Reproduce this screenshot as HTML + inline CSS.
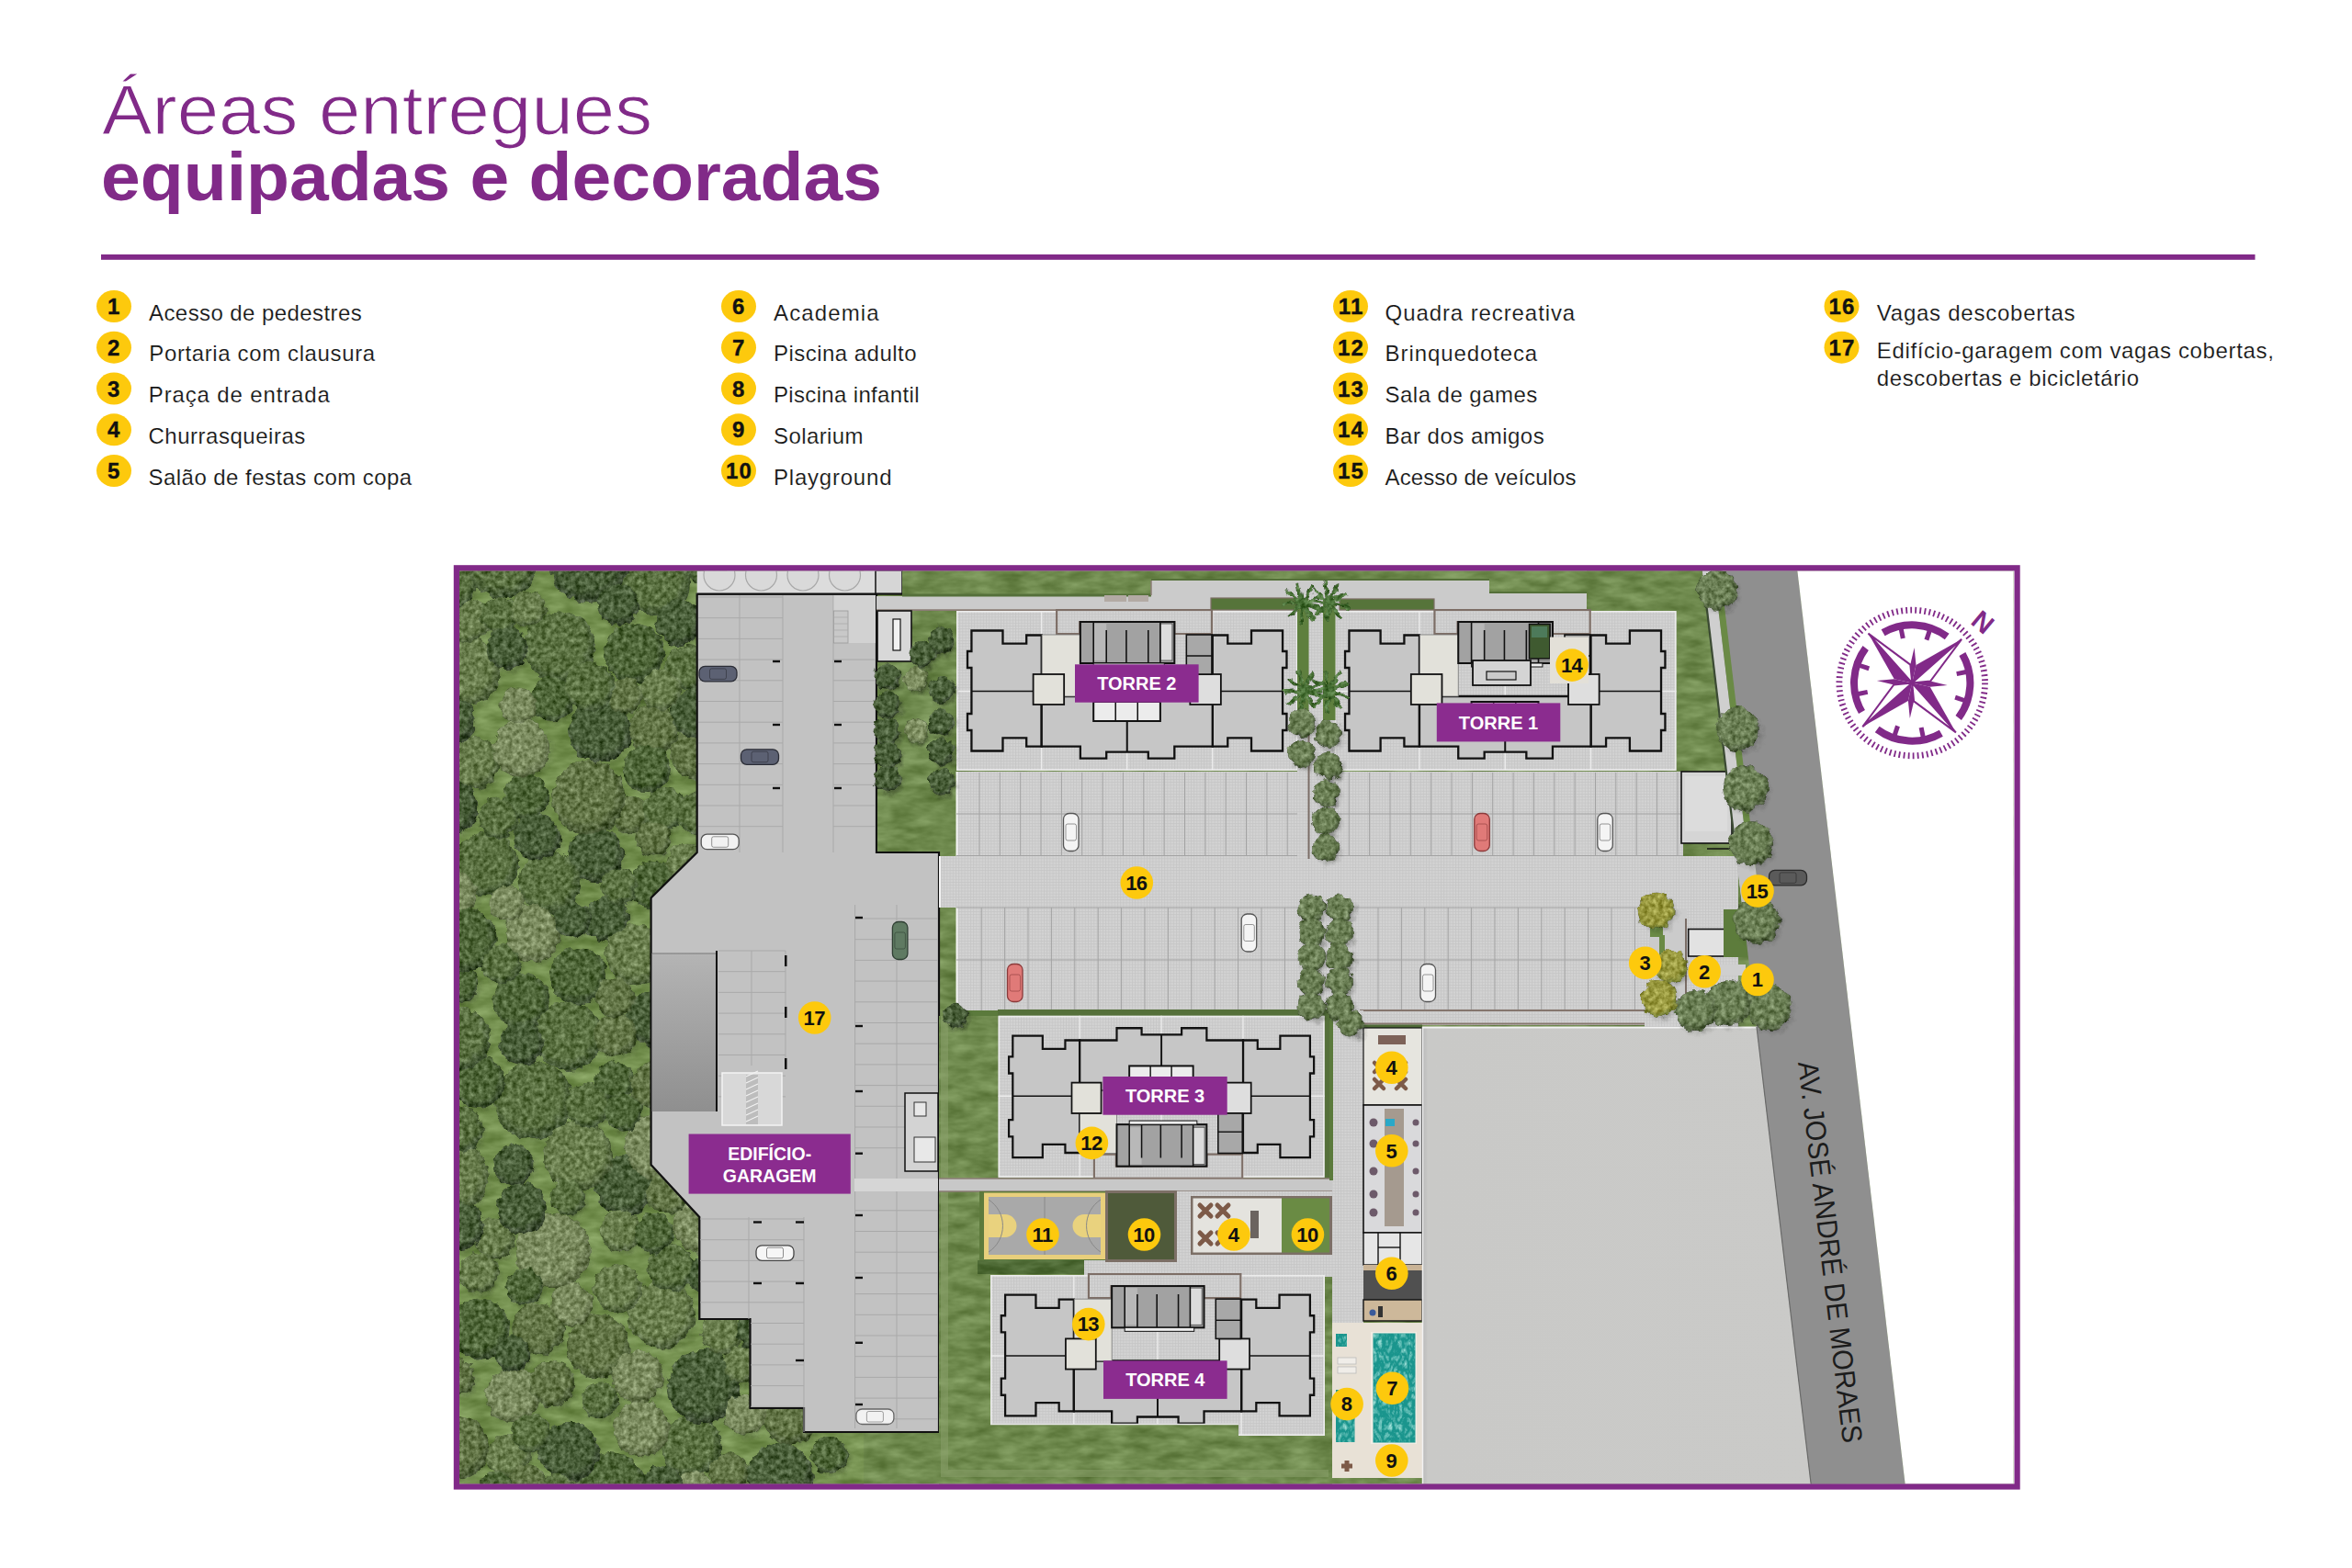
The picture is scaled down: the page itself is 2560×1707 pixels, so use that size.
<!DOCTYPE html>
<html><head><meta charset="utf-8"><style>
html,body{margin:0;padding:0;background:#fff;width:2560px;height:1707px;overflow:hidden}
svg{position:absolute;left:0;top:0;font-family:"Liberation Sans",sans-serif}
</style></head><body>
<svg width="2560" height="1707" viewBox="0 0 2560 1707">
<defs><filter id="lawnf" filterUnits="userSpaceOnUse" x="480" y="600" width="1740" height="1040" color-interpolation-filters="sRGB"><feTurbulence type="fractalNoise" baseFrequency="0.035 0.09" numOctaves="3" seed="11" result="n"/><feColorMatrix in="n" type="matrix" values="1 0 0 0 0  1 0 0 0 0  1 0 0 0 0  0 0 0 0 1" result="g"/><feComposite in="SourceGraphic" in2="g" operator="arithmetic" k1="0" k2="1" k3="0.28" k4="-0.14" result="c"/><feComposite in="c" in2="SourceGraphic" operator="in"/></filter><radialGradient id="tg0" cx="0.45" cy="0.42" r="0.58"><stop offset="0" stop-color="#5a7041"/><stop offset="0.72" stop-color="#5a7041"/><stop offset="1" stop-color="#3c4e2f"/></radialGradient><radialGradient id="tg1" cx="0.45" cy="0.42" r="0.58"><stop offset="0" stop-color="#697d4d"/><stop offset="0.72" stop-color="#697d4d"/><stop offset="1" stop-color="#475835"/></radialGradient><radialGradient id="tg2" cx="0.45" cy="0.42" r="0.58"><stop offset="0" stop-color="#4a5f3a"/><stop offset="0.72" stop-color="#4a5f3a"/><stop offset="1" stop-color="#313f29"/></radialGradient><radialGradient id="tg3" cx="0.45" cy="0.42" r="0.58"><stop offset="0" stop-color="#7b8b5f"/><stop offset="0.72" stop-color="#7b8b5f"/><stop offset="1" stop-color="#56643f"/></radialGradient><radialGradient id="tg4" cx="0.45" cy="0.42" r="0.58"><stop offset="0" stop-color="#4f6639"/><stop offset="0.72" stop-color="#4f6639"/><stop offset="1" stop-color="#344529"/></radialGradient><radialGradient id="tg5" cx="0.45" cy="0.42" r="0.58"><stop offset="0" stop-color="#637547"/><stop offset="0.72" stop-color="#637547"/><stop offset="1" stop-color="#435330"/></radialGradient><radialGradient id="tg6" cx="0.45" cy="0.42" r="0.58"><stop offset="0" stop-color="#7f8f62"/><stop offset="0.72" stop-color="#7f8f62"/><stop offset="1" stop-color="#5b6b45"/></radialGradient><radialGradient id="tg7" cx="0.45" cy="0.42" r="0.58"><stop offset="0" stop-color="#9a9a40"/><stop offset="0.72" stop-color="#9a9a40"/><stop offset="1" stop-color="#6f7a30"/></radialGradient><radialGradient id="tg8" cx="0.45" cy="0.42" r="0.58"><stop offset="0" stop-color="#6b7f55"/><stop offset="0.72" stop-color="#6b7f55"/><stop offset="1" stop-color="#4a5a3a"/></radialGradient><radialGradient id="sh" cx="0.5" cy="0.5" r="0.5"><stop offset="0.6" stop-color="#1a2410" stop-opacity="0.45"/><stop offset="1" stop-color="#1a2410" stop-opacity="0"/></radialGradient><filter id="leaf" filterUnits="userSpaceOnUse" x="480" y="600" width="470" height="1040" color-interpolation-filters="sRGB"><feTurbulence type="fractalNoise" baseFrequency="0.11" numOctaves="2" seed="3" result="t"/><feDisplacementMap in="SourceGraphic" in2="t" scale="9" xChannelSelector="R" yChannelSelector="G" result="d"/><feTurbulence type="fractalNoise" baseFrequency="0.19" numOctaves="3" seed="4" result="n"/><feColorMatrix in="n" type="matrix" values="1 0 0 0 0  1 0 0 0 0  1 0 0 0 0  0 0 0 0 1" result="g"/><feComposite in="d" in2="g" operator="arithmetic" k1="0" k2="1" k3="0.52" k4="-0.26" result="tex"/><feComposite in="tex" in2="d" operator="in"/></filter><filter id="grs" filterUnits="userSpaceOnUse" x="495" y="615" width="440" height="1010" color-interpolation-filters="sRGB"><feTurbulence type="fractalNoise" baseFrequency="0.025" numOctaves="3" seed="8" result="n"/><feColorMatrix in="n" type="matrix" values="1 0 0 0 0  1 0 0 0 0  1 0 0 0 0  0 0 0 0 1" result="g"/><feComposite in="SourceGraphic" in2="g" operator="arithmetic" k1="0" k2="1" k3="0.3" k4="-0.15"/></filter><filter id="water" x="0" y="0" width="1" height="1" color-interpolation-filters="sRGB"><feTurbulence type="turbulence" baseFrequency="0.18 0.12" numOctaves="2" seed="2" result="n"/><feColorMatrix in="n" type="matrix" values="0 0 0 0 0.75  0 0 0 0 0.95  0 0 0 0 0.92  1.4 0 0 0 -0.25" result="w"/><feComposite in="w" in2="SourceGraphic" operator="in" result="wi"/><feMerge><feMergeNode in="SourceGraphic"/><feMergeNode in="wi"/></feMerge></filter><filter id="leaf2" filterUnits="userSpaceOnUse" x="900" y="600" width="1100" height="1040" color-interpolation-filters="sRGB"><feTurbulence type="fractalNoise" baseFrequency="0.11" numOctaves="2" seed="3" result="t"/><feDisplacementMap in="SourceGraphic" in2="t" scale="9" xChannelSelector="R" yChannelSelector="G" result="d"/><feTurbulence type="fractalNoise" baseFrequency="0.19" numOctaves="3" seed="4" result="n"/><feColorMatrix in="n" type="matrix" values="1 0 0 0 0  1 0 0 0 0  1 0 0 0 0  0 0 0 0 1" result="g"/><feComposite in="d" in2="g" operator="arithmetic" k1="0" k2="1" k3="0.52" k4="-0.26" result="tex"/><feComposite in="tex" in2="d" operator="in"/></filter></defs>
<text x="111" y="146" font-size="76" fill="#812a88" stroke="#fff" stroke-width="1.2" paint-order="normal" textLength="599" lengthAdjust="spacingAndGlyphs">Áreas entregues</text>
<text x="110" y="218" font-size="75" font-weight="700" fill="#812a88" textLength="850" lengthAdjust="spacingAndGlyphs">equipadas e decoradas</text>
<rect x="110" y="277" width="2344.5" height="5.8" fill="#812a88"/>
<ellipse cx="124" cy="333.5" rx="19" ry="17.5" fill="#fdc90d"/>
<text x="123.7" y="342.1" font-size="24" font-weight="700" fill="#111" stroke="#111" stroke-width="0.35" text-anchor="middle" letter-spacing="0">1</text>
<text x="162" y="348.5" font-size="24" fill="#161616" stroke="#fff" stroke-width="0.15" textLength="231.8" lengthAdjust="spacing">Acesso de pedestres</text>
<ellipse cx="124" cy="378.2" rx="19" ry="17.5" fill="#fdc90d"/>
<text x="123.7" y="386.9" font-size="24" font-weight="700" fill="#111" stroke="#111" stroke-width="0.35" text-anchor="middle" letter-spacing="0">2</text>
<text x="162.3" y="393.2" font-size="24" fill="#161616" stroke="#fff" stroke-width="0.15" textLength="245.8" lengthAdjust="spacing">Portaria com clausura</text>
<ellipse cx="124" cy="423" rx="19" ry="17.5" fill="#fdc90d"/>
<text x="123.7" y="431.6" font-size="24" font-weight="700" fill="#111" stroke="#111" stroke-width="0.35" text-anchor="middle" letter-spacing="0">3</text>
<text x="161.8" y="438" font-size="24" fill="#161616" stroke="#fff" stroke-width="0.15" textLength="197.1" lengthAdjust="spacing">Praça de entrada</text>
<ellipse cx="124" cy="467.8" rx="19" ry="17.5" fill="#fdc90d"/>
<text x="123.7" y="476.4" font-size="24" font-weight="700" fill="#111" stroke="#111" stroke-width="0.35" text-anchor="middle" letter-spacing="0">4</text>
<text x="161.5" y="482.8" font-size="24" fill="#161616" stroke="#fff" stroke-width="0.15" textLength="170.8" lengthAdjust="spacing">Churrasqueiras</text>
<ellipse cx="124" cy="512.5" rx="19" ry="17.5" fill="#fdc90d"/>
<text x="123.7" y="521.1" font-size="24" font-weight="700" fill="#111" stroke="#111" stroke-width="0.35" text-anchor="middle" letter-spacing="0">5</text>
<text x="161.5" y="527.5" font-size="24" fill="#161616" stroke="#fff" stroke-width="0.15" textLength="286.7" lengthAdjust="spacing">Salão de festas com copa</text>
<ellipse cx="804" cy="333.5" rx="19" ry="17.5" fill="#fdc90d"/>
<text x="803.7" y="342.1" font-size="24" font-weight="700" fill="#111" stroke="#111" stroke-width="0.35" text-anchor="middle" letter-spacing="0">6</text>
<text x="842" y="348.5" font-size="24" fill="#161616" stroke="#fff" stroke-width="0.15" textLength="114.7" lengthAdjust="spacing">Academia</text>
<ellipse cx="804" cy="378.2" rx="19" ry="17.5" fill="#fdc90d"/>
<text x="803.7" y="386.9" font-size="24" font-weight="700" fill="#111" stroke="#111" stroke-width="0.35" text-anchor="middle" letter-spacing="0">7</text>
<text x="842" y="393.2" font-size="24" fill="#161616" stroke="#fff" stroke-width="0.15" textLength="155.5" lengthAdjust="spacing">Piscina adulto</text>
<ellipse cx="804" cy="423" rx="19" ry="17.5" fill="#fdc90d"/>
<text x="803.7" y="431.6" font-size="24" font-weight="700" fill="#111" stroke="#111" stroke-width="0.35" text-anchor="middle" letter-spacing="0">8</text>
<text x="842" y="438" font-size="24" fill="#161616" stroke="#fff" stroke-width="0.15" textLength="158.5" lengthAdjust="spacing">Piscina infantil</text>
<ellipse cx="804" cy="467.8" rx="19" ry="17.5" fill="#fdc90d"/>
<text x="803.7" y="476.4" font-size="24" font-weight="700" fill="#111" stroke="#111" stroke-width="0.35" text-anchor="middle" letter-spacing="0">9</text>
<text x="842" y="482.8" font-size="24" fill="#161616" stroke="#fff" stroke-width="0.15" textLength="97.5" lengthAdjust="spacing">Solarium</text>
<ellipse cx="804" cy="512.5" rx="19" ry="17.5" fill="#fdc90d"/>
<text x="804.6" y="521.1" font-size="24" font-weight="700" fill="#111" stroke="#111" stroke-width="0.35" text-anchor="middle" letter-spacing="1.2">10</text>
<text x="842" y="527.5" font-size="24" fill="#161616" stroke="#fff" stroke-width="0.15" textLength="128.5" lengthAdjust="spacing">Playground</text>
<ellipse cx="1470" cy="333.5" rx="19" ry="17.5" fill="#fdc90d"/>
<text x="1470.6" y="342.1" font-size="24" font-weight="700" fill="#111" stroke="#111" stroke-width="0.35" text-anchor="middle" letter-spacing="1.2">11</text>
<text x="1507.6" y="348.5" font-size="24" fill="#161616" stroke="#fff" stroke-width="0.15" textLength="206.6" lengthAdjust="spacing">Quadra recreativa</text>
<ellipse cx="1470" cy="378.2" rx="19" ry="17.5" fill="#fdc90d"/>
<text x="1470.6" y="386.9" font-size="24" font-weight="700" fill="#111" stroke="#111" stroke-width="0.35" text-anchor="middle" letter-spacing="1.2">12</text>
<text x="1507.6" y="393.2" font-size="24" fill="#161616" stroke="#fff" stroke-width="0.15" textLength="165.6" lengthAdjust="spacing">Brinquedoteca</text>
<ellipse cx="1470" cy="423" rx="19" ry="17.5" fill="#fdc90d"/>
<text x="1470.6" y="431.6" font-size="24" font-weight="700" fill="#111" stroke="#111" stroke-width="0.35" text-anchor="middle" letter-spacing="1.2">13</text>
<text x="1507.6" y="438" font-size="24" fill="#161616" stroke="#fff" stroke-width="0.15" textLength="165.6" lengthAdjust="spacing">Sala de games</text>
<ellipse cx="1470" cy="467.8" rx="19" ry="17.5" fill="#fdc90d"/>
<text x="1470.6" y="476.4" font-size="24" font-weight="700" fill="#111" stroke="#111" stroke-width="0.35" text-anchor="middle" letter-spacing="1.2">14</text>
<text x="1507.6" y="482.8" font-size="24" fill="#161616" stroke="#fff" stroke-width="0.15" textLength="173.1" lengthAdjust="spacing">Bar dos amigos</text>
<ellipse cx="1470" cy="512.5" rx="19" ry="17.5" fill="#fdc90d"/>
<text x="1470.6" y="521.1" font-size="24" font-weight="700" fill="#111" stroke="#111" stroke-width="0.35" text-anchor="middle" letter-spacing="1.2">15</text>
<text x="1507.6" y="527.5" font-size="24" fill="#161616" stroke="#fff" stroke-width="0.15" textLength="207.8" lengthAdjust="spacing">Acesso de veículos</text>
<ellipse cx="2004.5" cy="333.5" rx="19" ry="17.5" fill="#fdc90d"/>
<text x="2005.1" y="342.1" font-size="24" font-weight="700" fill="#111" stroke="#111" stroke-width="0.35" text-anchor="middle" letter-spacing="1.2">16</text>
<text x="2042.8" y="348.5" font-size="24" fill="#161616" stroke="#fff" stroke-width="0.15" textLength="215.7" lengthAdjust="spacing">Vagas descobertas</text>
<ellipse cx="2004.5" cy="378.2" rx="19" ry="17.5" fill="#fdc90d"/>
<text x="2005.1" y="386.9" font-size="24" font-weight="700" fill="#111" stroke="#111" stroke-width="0.35" text-anchor="middle" letter-spacing="1.2">17</text>
<text x="2042.8" y="390.2" font-size="24" fill="#161616" stroke="#fff" stroke-width="0.15" textLength="432" lengthAdjust="spacing">Edifício-garagem com vagas cobertas,</text>
<text x="2042.8" y="420" font-size="24" fill="#161616" stroke="#fff" stroke-width="0.15" textLength="285.2" lengthAdjust="spacing">descobertas e bicicletário</text>
<clipPath id="mc"><rect x="500" y="621.5" width="1691.5" height="994"/></clipPath>
<g clip-path="url(#mc)">
<rect x="500" y="621" width="1692" height="995" fill="#6f8a4e" filter="url(#lawnf)"/>
<rect x="500" y="621" width="440" height="995" fill="#74904f" filter="url(#lawnf)"/>
<g filter="url(#leaf)">
<circle cx="532.4" cy="945" r="37.6" fill="url(#sh)"/>
<circle cx="524.6" cy="1450.4" r="36" fill="url(#sh)"/>
<circle cx="517.2" cy="834.1" r="32" fill="url(#sh)"/>
<circle cx="612.3" cy="708.2" r="41.8" fill="url(#sh)"/>
<circle cx="755.3" cy="1578.6" r="36" fill="url(#sh)"/>
<circle cx="583.4" cy="1202.3" r="45.4" fill="url(#sh)"/>
<circle cx="523.4" cy="1181.6" r="32.1" fill="url(#sh)"/>
<circle cx="656.4" cy="799.6" r="37.3" fill="url(#sh)"/>
<circle cx="693.1" cy="715" r="35.5" fill="url(#sh)"/>
<circle cx="651.6" cy="935.2" r="32.9" fill="url(#sh)"/>
<circle cx="601.2" cy="965" r="36.6" fill="url(#sh)"/>
<circle cx="683.4" cy="1294.9" r="35.8" fill="url(#sh)"/>
<circle cx="688.9" cy="890.3" r="23.6" fill="url(#sh)"/>
<circle cx="588.6" cy="1451.1" r="31.3" fill="url(#sh)"/>
<circle cx="716.4" cy="968.6" r="30.5" fill="url(#sh)"/>
<circle cx="509.6" cy="735" r="40.4" fill="url(#sh)"/>
<circle cx="604.8" cy="1366.2" r="44" fill="url(#sh)"/>
<circle cx="768.3" cy="1513.5" r="42.7" fill="url(#sh)"/>
<circle cx="770.2" cy="1333.7" r="38.4" fill="url(#sh)"/>
<circle cx="555.8" cy="1589.1" r="26.2" fill="url(#sh)"/>
<circle cx="495.9" cy="1285.1" r="41.9" fill="url(#sh)"/>
<circle cx="494.2" cy="883" r="32.1" fill="url(#sh)"/>
<circle cx="582.9" cy="1020.4" r="33.6" fill="url(#sh)"/>
<circle cx="511.9" cy="679.2" r="27" fill="url(#sh)"/>
<circle cx="715.9" cy="1111.9" r="33.5" fill="url(#sh)"/>
<circle cx="725.9" cy="885" r="25.9" fill="url(#sh)"/>
<circle cx="760.5" cy="824.5" r="30.7" fill="url(#sh)"/>
<circle cx="852.1" cy="1610.2" r="38.7" fill="url(#sh)"/>
<circle cx="632.8" cy="1262.6" r="40.9" fill="url(#sh)"/>
<circle cx="723" cy="1435" r="39.8" fill="url(#sh)"/>
<circle cx="570" cy="1093.6" r="33.6" fill="url(#sh)"/>
<circle cx="654.1" cy="1469.9" r="37.7" fill="url(#sh)"/>
<circle cx="714.7" cy="797.4" r="30" fill="url(#sh)"/>
<circle cx="540.8" cy="1352.4" r="25" fill="url(#sh)"/>
<circle cx="717.6" cy="637.7" r="39.4" fill="url(#sh)"/>
<circle cx="575.3" cy="871.9" r="27.8" fill="url(#sh)"/>
<circle cx="788.1" cy="1456.4" r="25.1" fill="url(#sh)"/>
<circle cx="671.8" cy="1180.3" r="24.5" fill="url(#sh)"/>
<circle cx="546.8" cy="673.7" r="23" fill="url(#sh)"/>
<circle cx="621.1" cy="1131.8" r="40.2" fill="url(#sh)"/>
<circle cx="632.7" cy="1066.3" r="34.1" fill="url(#sh)"/>
<circle cx="570.9" cy="818.6" r="34.2" fill="url(#sh)"/>
<circle cx="561.1" cy="1523" r="32.7" fill="url(#sh)"/>
<circle cx="678.5" cy="1343.6" r="25.4" fill="url(#sh)"/>
<circle cx="570.3" cy="1139.9" r="26.7" fill="url(#sh)"/>
<circle cx="751.1" cy="730.7" r="27.5" fill="url(#sh)"/>
<circle cx="666.8" cy="1626.2" r="44" fill="url(#sh)"/>
<circle cx="493.2" cy="978.3" r="31.2" fill="url(#sh)"/>
<circle cx="504.6" cy="1074.6" r="22.5" fill="url(#sh)"/>
<circle cx="620.6" cy="1307.6" r="22.1" fill="url(#sh)"/>
<circle cx="656.3" cy="1528.1" r="22.6" fill="url(#sh)"/>
<circle cx="733" cy="1383.7" r="28.7" fill="url(#sh)"/>
<circle cx="863.6" cy="1544" r="35.2" fill="url(#sh)"/>
<circle cx="663.1" cy="1005" r="27" fill="url(#sh)"/>
<circle cx="500.3" cy="1502.9" r="22.8" fill="url(#sh)"/>
<circle cx="701" cy="1559" r="33.2" fill="url(#sh)"/>
<circle cx="562.3" cy="1271.8" r="25.1" fill="url(#sh)"/>
<circle cx="644" cy="617.2" r="45.9" fill="url(#sh)"/>
<circle cx="706.7" cy="841" r="29.1" fill="url(#sh)"/>
<circle cx="603.6" cy="764.7" r="27.1" fill="url(#sh)"/>
<circle cx="493.8" cy="788" r="28.7" fill="url(#sh)"/>
<circle cx="694.8" cy="1042.9" r="35.5" fill="url(#sh)"/>
<circle cx="814" cy="1544.2" r="25.2" fill="url(#sh)"/>
<circle cx="622.9" cy="1584.4" r="35.6" fill="url(#sh)"/>
<circle cx="675.4" cy="1406.5" r="29.4" fill="url(#sh)"/>
<circle cx="502.3" cy="1134.3" r="37.3" fill="url(#sh)"/>
<circle cx="643.5" cy="872.1" r="42.6" fill="url(#sh)"/>
<circle cx="493.7" cy="638.6" r="30.5" fill="url(#sh)"/>
<circle cx="719.6" cy="1252" r="39.4" fill="url(#sh)"/>
<circle cx="603.4" cy="1510.2" r="27.7" fill="url(#sh)"/>
<circle cx="587.6" cy="915.2" r="28.3" fill="url(#sh)"/>
<circle cx="549.8" cy="617.3" r="40.3" fill="url(#sh)"/>
<circle cx="796.2" cy="1606.8" r="24.4" fill="url(#sh)"/>
<circle cx="730.8" cy="1302" r="26.4" fill="url(#sh)"/>
<circle cx="642.9" cy="1207.8" r="27" fill="url(#sh)"/>
<circle cx="577.4" cy="666.5" r="22.1" fill="url(#sh)"/>
<circle cx="508.3" cy="1027.1" r="38.3" fill="url(#sh)"/>
<circle cx="683.4" cy="761.4" r="22.3" fill="url(#sh)"/>
<circle cx="523.9" cy="1389.7" r="24.9" fill="url(#sh)"/>
<circle cx="500.7" cy="1579.4" r="37.2" fill="url(#sh)"/>
<circle cx="626.5" cy="1005.3" r="22.3" fill="url(#sh)"/>
<circle cx="760.5" cy="780.9" r="29.8" fill="url(#sh)"/>
<circle cx="697.1" cy="1502.7" r="31.1" fill="url(#sh)"/>
<circle cx="571.3" cy="1319.7" r="30.5" fill="url(#sh)"/>
<circle cx="757.8" cy="1625.6" r="23" fill="url(#sh)"/>
<circle cx="811.4" cy="1489.1" r="23.5" fill="url(#sh)"/>
<circle cx="573.5" cy="1404.9" r="23" fill="url(#sh)"/>
<circle cx="503.8" cy="1233.1" r="27.9" fill="url(#sh)"/>
<circle cx="576.9" cy="1620.4" r="24.8" fill="url(#sh)"/>
<circle cx="905.7" cy="1588.3" r="22.8" fill="url(#sh)"/>
<circle cx="764.5" cy="889.3" r="26.7" fill="url(#sh)"/>
<circle cx="567.2" cy="772.1" r="22.7" fill="url(#sh)"/>
<circle cx="713.9" cy="917" r="22.5" fill="url(#sh)"/>
<circle cx="644.5" cy="751.7" r="30.1" fill="url(#sh)"/>
<circle cx="721.9" cy="754.8" r="24.9" fill="url(#sh)"/>
<circle cx="555.1" cy="709.4" r="25.7" fill="url(#sh)"/>
<circle cx="773.6" cy="619.7" r="26.7" fill="url(#sh)"/>
<circle cx="672.4" cy="1130.9" r="26.7" fill="url(#sh)"/>
<circle cx="715.6" cy="1186.7" r="28.9" fill="url(#sh)"/>
<circle cx="681.2" cy="1214.9" r="23.5" fill="url(#sh)"/>
<circle cx="625.3" cy="1423.9" r="25.8" fill="url(#sh)"/>
<circle cx="675.6" cy="661.9" r="25.5" fill="url(#sh)"/>
<circle cx="741.4" cy="681.5" r="27.7" fill="url(#sh)"/>
<circle cx="544.8" cy="895.2" r="24.7" fill="url(#sh)"/>
<circle cx="609.6" cy="1628.5" r="22.1" fill="url(#sh)"/>
<circle cx="672.6" cy="1090.1" r="24.6" fill="url(#sh)"/>
<circle cx="723.7" cy="1621.7" r="25.8" fill="url(#sh)"/>
<circle cx="750" cy="943.8" r="24" fill="url(#sh)"/>
<circle cx="543.2" cy="1627.6" r="23.5" fill="url(#sh)"/>
<circle cx="503" cy="1338.6" r="29.4" fill="url(#sh)"/>
<circle cx="771.4" cy="1392.5" r="22.8" fill="url(#sh)"/>
<circle cx="554.7" cy="987.8" r="22.2" fill="url(#sh)"/>
<circle cx="581.1" cy="1564.1" r="23.8" fill="url(#sh)"/>
<circle cx="826.5" cy="1450.8" r="25.4" fill="url(#sh)"/>
<circle cx="561" cy="1478" r="22.4" fill="url(#sh)"/>
<circle cx="548.5" cy="1053.4" r="23.9" fill="url(#sh)"/>
<circle cx="676.5" cy="968.9" r="22.2" fill="url(#sh)"/>
<circle cx="715.2" cy="1347.1" r="24.3" fill="url(#sh)"/>
<circle cx="529.4" cy="941" r="34.6" fill="url(#tg0)"/>
<circle cx="521.6" cy="1446.4" r="33" fill="url(#tg4)"/>
<circle cx="514.2" cy="830.1" r="29" fill="url(#tg1)"/>
<circle cx="609.3" cy="704.2" r="38.8" fill="url(#tg0)"/>
<circle cx="752.3" cy="1574.6" r="33" fill="url(#tg0)"/>
<circle cx="580.4" cy="1198.3" r="42.4" fill="url(#tg0)"/>
<circle cx="520.4" cy="1177.6" r="29.1" fill="url(#tg4)"/>
<circle cx="653.4" cy="795.6" r="34.3" fill="url(#tg2)"/>
<circle cx="690.1" cy="711" r="32.5" fill="url(#tg4)"/>
<circle cx="648.6" cy="931.2" r="29.9" fill="url(#tg2)"/>
<circle cx="598.2" cy="961" r="33.6" fill="url(#tg0)"/>
<circle cx="680.4" cy="1290.9" r="32.8" fill="url(#tg2)"/>
<circle cx="685.9" cy="886.3" r="20.6" fill="url(#tg5)"/>
<circle cx="585.6" cy="1447.1" r="28.3" fill="url(#tg5)"/>
<circle cx="713.4" cy="964.6" r="27.5" fill="url(#tg4)"/>
<circle cx="506.6" cy="731" r="37.4" fill="url(#tg1)"/>
<circle cx="601.8" cy="1362.2" r="41" fill="url(#tg3)"/>
<circle cx="765.3" cy="1509.5" r="39.7" fill="url(#tg2)"/>
<circle cx="767.2" cy="1329.7" r="35.4" fill="url(#tg3)"/>
<circle cx="552.8" cy="1585.1" r="23.2" fill="url(#tg1)"/>
<circle cx="492.9" cy="1281.1" r="38.9" fill="url(#tg1)"/>
<circle cx="491.2" cy="879" r="29.1" fill="url(#tg2)"/>
<circle cx="579.9" cy="1016.4" r="30.6" fill="url(#tg3)"/>
<circle cx="508.9" cy="675.2" r="24" fill="url(#tg1)"/>
<circle cx="712.9" cy="1107.9" r="30.5" fill="url(#tg2)"/>
<circle cx="722.9" cy="881" r="22.9" fill="url(#tg0)"/>
<circle cx="757.5" cy="820.5" r="27.7" fill="url(#tg5)"/>
<circle cx="849.1" cy="1606.2" r="35.7" fill="url(#tg2)"/>
<circle cx="629.8" cy="1258.6" r="37.9" fill="url(#tg1)"/>
<circle cx="720" cy="1431" r="36.8" fill="url(#tg1)"/>
<circle cx="567" cy="1089.6" r="30.6" fill="url(#tg4)"/>
<circle cx="651.1" cy="1465.9" r="34.7" fill="url(#tg5)"/>
<circle cx="711.7" cy="793.4" r="27" fill="url(#tg5)"/>
<circle cx="537.8" cy="1348.4" r="22" fill="url(#tg1)"/>
<circle cx="714.6" cy="633.7" r="36.4" fill="url(#tg0)"/>
<circle cx="572.3" cy="867.9" r="24.8" fill="url(#tg4)"/>
<circle cx="785.1" cy="1452.4" r="22.1" fill="url(#tg1)"/>
<circle cx="668.8" cy="1176.3" r="21.5" fill="url(#tg4)"/>
<circle cx="543.8" cy="669.7" r="20" fill="url(#tg0)"/>
<circle cx="618.1" cy="1127.8" r="37.2" fill="url(#tg0)"/>
<circle cx="629.7" cy="1062.3" r="31.1" fill="url(#tg4)"/>
<circle cx="567.9" cy="814.6" r="31.2" fill="url(#tg3)"/>
<circle cx="558.1" cy="1519" r="29.7" fill="url(#tg3)"/>
<circle cx="675.5" cy="1339.6" r="22.4" fill="url(#tg1)"/>
<circle cx="567.3" cy="1135.9" r="23.7" fill="url(#tg2)"/>
<circle cx="748.1" cy="726.7" r="24.5" fill="url(#tg0)"/>
<circle cx="663.8" cy="1622.2" r="41" fill="url(#tg4)"/>
<circle cx="490.2" cy="974.3" r="28.2" fill="url(#tg3)"/>
<circle cx="501.6" cy="1070.6" r="19.5" fill="url(#tg4)"/>
<circle cx="617.6" cy="1303.6" r="19.1" fill="url(#tg0)"/>
<circle cx="653.3" cy="1524.1" r="19.6" fill="url(#tg0)"/>
<circle cx="730" cy="1379.7" r="25.7" fill="url(#tg0)"/>
<circle cx="860.6" cy="1540" r="32.2" fill="url(#tg5)"/>
<circle cx="660.1" cy="1001" r="24" fill="url(#tg2)"/>
<circle cx="497.3" cy="1498.9" r="19.8" fill="url(#tg5)"/>
<circle cx="698" cy="1555" r="30.2" fill="url(#tg3)"/>
<circle cx="559.3" cy="1267.8" r="22.1" fill="url(#tg2)"/>
<circle cx="641" cy="613.2" r="42.9" fill="url(#tg2)"/>
<circle cx="703.7" cy="837" r="26.1" fill="url(#tg4)"/>
<circle cx="600.6" cy="760.7" r="24.1" fill="url(#tg4)"/>
<circle cx="490.8" cy="784" r="25.7" fill="url(#tg2)"/>
<circle cx="691.8" cy="1038.9" r="32.5" fill="url(#tg1)"/>
<circle cx="811" cy="1540.2" r="22.2" fill="url(#tg3)"/>
<circle cx="619.9" cy="1580.4" r="32.6" fill="url(#tg2)"/>
<circle cx="672.4" cy="1402.5" r="26.4" fill="url(#tg1)"/>
<circle cx="499.3" cy="1130.3" r="34.3" fill="url(#tg0)"/>
<circle cx="640.5" cy="868.1" r="39.6" fill="url(#tg5)"/>
<circle cx="490.7" cy="634.6" r="27.5" fill="url(#tg0)"/>
<circle cx="716.6" cy="1248" r="36.4" fill="url(#tg3)"/>
<circle cx="600.4" cy="1506.2" r="24.7" fill="url(#tg5)"/>
<circle cx="584.6" cy="911.2" r="25.3" fill="url(#tg2)"/>
<circle cx="546.8" cy="613.3" r="37.3" fill="url(#tg0)"/>
<circle cx="793.2" cy="1602.8" r="21.4" fill="url(#tg5)"/>
<circle cx="727.8" cy="1298" r="23.4" fill="url(#tg5)"/>
<circle cx="639.9" cy="1203.8" r="24" fill="url(#tg0)"/>
<circle cx="574.4" cy="662.5" r="19.1" fill="url(#tg1)"/>
<circle cx="505.3" cy="1023.1" r="35.3" fill="url(#tg4)"/>
<circle cx="680.4" cy="757.4" r="19.3" fill="url(#tg5)"/>
<circle cx="520.9" cy="1385.7" r="21.9" fill="url(#tg1)"/>
<circle cx="497.7" cy="1575.4" r="34.2" fill="url(#tg5)"/>
<circle cx="623.5" cy="1001.3" r="19.3" fill="url(#tg2)"/>
<circle cx="757.5" cy="776.9" r="26.8" fill="url(#tg2)"/>
<circle cx="694.1" cy="1498.7" r="28.1" fill="url(#tg3)"/>
<circle cx="568.3" cy="1315.7" r="27.5" fill="url(#tg2)"/>
<circle cx="754.8" cy="1621.6" r="20" fill="url(#tg3)"/>
<circle cx="808.4" cy="1485.1" r="20.5" fill="url(#tg1)"/>
<circle cx="570.5" cy="1400.9" r="20" fill="url(#tg4)"/>
<circle cx="500.8" cy="1229.1" r="24.9" fill="url(#tg0)"/>
<circle cx="573.9" cy="1616.4" r="21.8" fill="url(#tg5)"/>
<circle cx="902.7" cy="1584.3" r="19.8" fill="url(#tg4)"/>
<circle cx="761.5" cy="885.3" r="23.7" fill="url(#tg0)"/>
<circle cx="564.2" cy="768.1" r="19.7" fill="url(#tg3)"/>
<circle cx="710.9" cy="913" r="19.5" fill="url(#tg5)"/>
<circle cx="641.5" cy="747.7" r="27.1" fill="url(#tg0)"/>
<circle cx="718.9" cy="750.8" r="21.9" fill="url(#tg1)"/>
<circle cx="552.1" cy="705.4" r="22.7" fill="url(#tg2)"/>
<circle cx="770.6" cy="615.7" r="23.7" fill="url(#tg4)"/>
<circle cx="669.4" cy="1126.9" r="23.7" fill="url(#tg5)"/>
<circle cx="712.6" cy="1182.7" r="25.9" fill="url(#tg5)"/>
<circle cx="678.2" cy="1210.9" r="20.5" fill="url(#tg4)"/>
<circle cx="622.3" cy="1419.9" r="22.8" fill="url(#tg3)"/>
<circle cx="672.6" cy="657.9" r="22.5" fill="url(#tg2)"/>
<circle cx="738.4" cy="677.5" r="24.7" fill="url(#tg2)"/>
<circle cx="541.8" cy="891.2" r="21.7" fill="url(#tg0)"/>
<circle cx="606.6" cy="1624.5" r="19.1" fill="url(#tg0)"/>
<circle cx="669.6" cy="1086.1" r="21.6" fill="url(#tg5)"/>
<circle cx="720.7" cy="1617.7" r="22.8" fill="url(#tg2)"/>
<circle cx="747" cy="939.8" r="21" fill="url(#tg1)"/>
<circle cx="540.2" cy="1623.6" r="20.5" fill="url(#tg4)"/>
<circle cx="500" cy="1334.6" r="26.4" fill="url(#tg2)"/>
<circle cx="768.4" cy="1388.5" r="19.8" fill="url(#tg2)"/>
<circle cx="551.7" cy="983.8" r="19.2" fill="url(#tg3)"/>
<circle cx="578.1" cy="1560.1" r="20.8" fill="url(#tg0)"/>
<circle cx="823.5" cy="1446.8" r="22.4" fill="url(#tg2)"/>
<circle cx="558" cy="1474" r="19.4" fill="url(#tg2)"/>
<circle cx="545.5" cy="1049.4" r="20.9" fill="url(#tg0)"/>
<circle cx="673.5" cy="964.9" r="19.2" fill="url(#tg0)"/>
<circle cx="712.2" cy="1343.1" r="21.3" fill="url(#tg4)"/>
</g>
<polygon points="758.7,646.6 954,646.6 954,928 1022,928 1022,1559 875,1559 875,1533 816.5,1533 816.5,1436 761.3,1436 761.3,1325 708.6,1268 708.6,977.5 758.7,928" fill="#c2c2c2" stroke="#111" stroke-width="2.2"/>
<linearGradient id="ramp" x1="0" y1="0" x2="0" y2="1"><stop offset="0" stop-color="#b4b4b4"/><stop offset="1" stop-color="#8f8f8f"/></linearGradient>
<rect x="709.7" y="1038" width="69.3" height="172" fill="url(#ramp)" />
<line x1="709.7" y1="1038" x2="779" y2="1038" stroke="#777" stroke-width="1" />
<line x1="760" y1="650" x2="852" y2="650" stroke="#a9a9a9" stroke-width="1" />
<line x1="907" y1="650" x2="953" y2="650" stroke="#a9a9a9" stroke-width="1" />
<line x1="760" y1="672.7" x2="852" y2="672.7" stroke="#a9a9a9" stroke-width="1" />
<line x1="907" y1="672.7" x2="953" y2="672.7" stroke="#a9a9a9" stroke-width="1" />
<line x1="760" y1="695.4" x2="852" y2="695.4" stroke="#a9a9a9" stroke-width="1" />
<line x1="907" y1="695.4" x2="953" y2="695.4" stroke="#a9a9a9" stroke-width="1" />
<line x1="760" y1="718.1" x2="852" y2="718.1" stroke="#a9a9a9" stroke-width="1" />
<line x1="907" y1="718.1" x2="953" y2="718.1" stroke="#a9a9a9" stroke-width="1" />
<line x1="760" y1="740.8" x2="852" y2="740.8" stroke="#a9a9a9" stroke-width="1" />
<line x1="907" y1="740.8" x2="953" y2="740.8" stroke="#a9a9a9" stroke-width="1" />
<line x1="760" y1="763.5" x2="852" y2="763.5" stroke="#a9a9a9" stroke-width="1" />
<line x1="907" y1="763.5" x2="953" y2="763.5" stroke="#a9a9a9" stroke-width="1" />
<line x1="760" y1="786.2" x2="852" y2="786.2" stroke="#a9a9a9" stroke-width="1" />
<line x1="907" y1="786.2" x2="953" y2="786.2" stroke="#a9a9a9" stroke-width="1" />
<line x1="760" y1="808.9" x2="852" y2="808.9" stroke="#a9a9a9" stroke-width="1" />
<line x1="907" y1="808.9" x2="953" y2="808.9" stroke="#a9a9a9" stroke-width="1" />
<line x1="760" y1="831.6" x2="852" y2="831.6" stroke="#a9a9a9" stroke-width="1" />
<line x1="907" y1="831.6" x2="953" y2="831.6" stroke="#a9a9a9" stroke-width="1" />
<line x1="760" y1="854.3" x2="852" y2="854.3" stroke="#a9a9a9" stroke-width="1" />
<line x1="907" y1="854.3" x2="953" y2="854.3" stroke="#a9a9a9" stroke-width="1" />
<line x1="760" y1="877" x2="852" y2="877" stroke="#a9a9a9" stroke-width="1" />
<line x1="907" y1="877" x2="953" y2="877" stroke="#a9a9a9" stroke-width="1" />
<line x1="760" y1="899.7" x2="852" y2="899.7" stroke="#a9a9a9" stroke-width="1" />
<line x1="907" y1="899.7" x2="953" y2="899.7" stroke="#a9a9a9" stroke-width="1" />
<line x1="805" y1="648" x2="805" y2="928" stroke="#a9a9a9" stroke-width="1" />
<line x1="852" y1="648" x2="852" y2="928" stroke="#a9a9a9" stroke-width="1" />
<line x1="907" y1="648" x2="907" y2="928" stroke="#a9a9a9" stroke-width="1" />
<line x1="930.6" y1="985" x2="930.6" y2="1555" stroke="#a9a9a9" stroke-width="1" />
<line x1="976" y1="985" x2="976" y2="1555" stroke="#a9a9a9" stroke-width="1" />
<line x1="930.6" y1="1000" x2="1021" y2="1000" stroke="#a9a9a9" stroke-width="1" />
<line x1="930.6" y1="1022.7" x2="1021" y2="1022.7" stroke="#a9a9a9" stroke-width="1" />
<line x1="930.6" y1="1045.4" x2="1021" y2="1045.4" stroke="#a9a9a9" stroke-width="1" />
<line x1="930.6" y1="1068.1" x2="1021" y2="1068.1" stroke="#a9a9a9" stroke-width="1" />
<line x1="930.6" y1="1090.8" x2="1021" y2="1090.8" stroke="#a9a9a9" stroke-width="1" />
<line x1="930.6" y1="1113.5" x2="1021" y2="1113.5" stroke="#a9a9a9" stroke-width="1" />
<line x1="930.6" y1="1136.2" x2="1021" y2="1136.2" stroke="#a9a9a9" stroke-width="1" />
<line x1="930.6" y1="1158.9" x2="1021" y2="1158.9" stroke="#a9a9a9" stroke-width="1" />
<line x1="930.6" y1="1181.6" x2="1021" y2="1181.6" stroke="#a9a9a9" stroke-width="1" />
<line x1="930.6" y1="1204.3" x2="1021" y2="1204.3" stroke="#a9a9a9" stroke-width="1" />
<line x1="930.6" y1="1227" x2="1021" y2="1227" stroke="#a9a9a9" stroke-width="1" />
<line x1="930.6" y1="1249.7" x2="1021" y2="1249.7" stroke="#a9a9a9" stroke-width="1" />
<line x1="930.6" y1="1317.8" x2="1021" y2="1317.8" stroke="#a9a9a9" stroke-width="1" />
<line x1="930.6" y1="1340.5" x2="1021" y2="1340.5" stroke="#a9a9a9" stroke-width="1" />
<line x1="930.6" y1="1363.2" x2="1021" y2="1363.2" stroke="#a9a9a9" stroke-width="1" />
<line x1="930.6" y1="1385.9" x2="1021" y2="1385.9" stroke="#a9a9a9" stroke-width="1" />
<line x1="930.6" y1="1408.6" x2="1021" y2="1408.6" stroke="#a9a9a9" stroke-width="1" />
<line x1="930.6" y1="1431.3" x2="1021" y2="1431.3" stroke="#a9a9a9" stroke-width="1" />
<line x1="930.6" y1="1454" x2="1021" y2="1454" stroke="#a9a9a9" stroke-width="1" />
<line x1="930.6" y1="1476.7" x2="1021" y2="1476.7" stroke="#a9a9a9" stroke-width="1" />
<line x1="930.6" y1="1499.4" x2="1021" y2="1499.4" stroke="#a9a9a9" stroke-width="1" />
<line x1="930.6" y1="1522.1" x2="1021" y2="1522.1" stroke="#a9a9a9" stroke-width="1" />
<line x1="930.6" y1="1544.8" x2="1021" y2="1544.8" stroke="#a9a9a9" stroke-width="1" />
<line x1="762" y1="1327" x2="875" y2="1327" stroke="#a9a9a9" stroke-width="1" />
<line x1="762" y1="1349.7" x2="875" y2="1349.7" stroke="#a9a9a9" stroke-width="1" />
<line x1="762" y1="1372.4" x2="875" y2="1372.4" stroke="#a9a9a9" stroke-width="1" />
<line x1="762" y1="1395.1" x2="875" y2="1395.1" stroke="#a9a9a9" stroke-width="1" />
<line x1="762" y1="1417.8" x2="875" y2="1417.8" stroke="#a9a9a9" stroke-width="1" />
<line x1="817" y1="1440.5" x2="875" y2="1440.5" stroke="#a9a9a9" stroke-width="1" />
<line x1="817" y1="1463.2" x2="875" y2="1463.2" stroke="#a9a9a9" stroke-width="1" />
<line x1="817" y1="1485.9" x2="875" y2="1485.9" stroke="#a9a9a9" stroke-width="1" />
<line x1="817" y1="1508.6" x2="875" y2="1508.6" stroke="#a9a9a9" stroke-width="1" />
<line x1="817" y1="1531.3" x2="875" y2="1531.3" stroke="#a9a9a9" stroke-width="1" />
<line x1="815" y1="1325" x2="815" y2="1436" stroke="#a9a9a9" stroke-width="1" />
<line x1="875" y1="1325" x2="875" y2="1559" stroke="#a9a9a9" stroke-width="1" />
<line x1="780" y1="1035" x2="780" y2="1210" stroke="#111" stroke-width="2" />
<line x1="782" y1="1035" x2="855" y2="1035" stroke="#a9a9a9" stroke-width="1" />
<line x1="782" y1="1057.7" x2="855" y2="1057.7" stroke="#a9a9a9" stroke-width="1" />
<line x1="782" y1="1080.4" x2="855" y2="1080.4" stroke="#a9a9a9" stroke-width="1" />
<line x1="782" y1="1103.1" x2="855" y2="1103.1" stroke="#a9a9a9" stroke-width="1" />
<line x1="782" y1="1125.8" x2="855" y2="1125.8" stroke="#a9a9a9" stroke-width="1" />
<line x1="782" y1="1148.5" x2="855" y2="1148.5" stroke="#a9a9a9" stroke-width="1" />
<line x1="782" y1="1171.2" x2="855" y2="1171.2" stroke="#a9a9a9" stroke-width="1" />
<line x1="782" y1="1193.9" x2="855" y2="1193.9" stroke="#a9a9a9" stroke-width="1" />
<line x1="818" y1="1035" x2="818" y2="1160" stroke="#a9a9a9" stroke-width="1" />
<line x1="855" y1="1035" x2="855" y2="1160" stroke="#a9a9a9" stroke-width="1" />
<rect x="786" y="1168" width="65" height="57" fill="#d8d8d8" stroke="#f4f4f4" stroke-width="1.5"/>
<rect x="812" y="1170" width="13" height="54" fill="#bdbdbd" />
<line x1="812" y1="1172" x2="825" y2="1166" stroke="#f2f2f2" stroke-width="1.2" />
<line x1="812" y1="1179" x2="825" y2="1173" stroke="#f2f2f2" stroke-width="1.2" />
<line x1="812" y1="1186" x2="825" y2="1180" stroke="#f2f2f2" stroke-width="1.2" />
<line x1="812" y1="1193" x2="825" y2="1187" stroke="#f2f2f2" stroke-width="1.2" />
<line x1="812" y1="1200" x2="825" y2="1194" stroke="#f2f2f2" stroke-width="1.2" />
<line x1="812" y1="1207" x2="825" y2="1201" stroke="#f2f2f2" stroke-width="1.2" />
<line x1="812" y1="1214" x2="825" y2="1208" stroke="#f2f2f2" stroke-width="1.2" />
<line x1="812" y1="1221" x2="825" y2="1215" stroke="#f2f2f2" stroke-width="1.2" />
<rect x="985" y="1190" width="36" height="85" fill="#d3d3d3" stroke="#111" stroke-width="1.5"/>
<rect x="995" y="1200" width="13" height="15" fill="#e8e8e8" stroke="#333" stroke-width="1"/>
<rect x="995" y="1238" width="23" height="27" fill="#e8e8e8" stroke="#333" stroke-width="1"/>
<rect x="930" y="1283" width="91" height="14" fill="#d6d6d6" />
<rect x="841" y="718.8" width="8" height="2.4" fill="#111" />
<rect x="908" y="718.8" width="8" height="2.4" fill="#111" />
<rect x="841" y="787.8" width="8" height="2.4" fill="#111" />
<rect x="908" y="787.8" width="8" height="2.4" fill="#111" />
<rect x="841" y="856.8" width="8" height="2.4" fill="#111" />
<rect x="908" y="856.8" width="8" height="2.4" fill="#111" />
<rect x="931" y="997.8" width="8" height="2.4" fill="#111" />
<rect x="931" y="1115.8" width="8" height="2.4" fill="#111" />
<rect x="931" y="1186.8" width="8" height="2.4" fill="#111" />
<rect x="931" y="1254.5" width="8" height="2.4" fill="#111" />
<rect x="931" y="1321.8" width="8" height="2.4" fill="#111" />
<rect x="931" y="1389.8" width="8" height="2.4" fill="#111" />
<rect x="931" y="1460.6" width="8" height="2.4" fill="#111" />
<rect x="931" y="1527.8" width="8" height="2.4" fill="#111" />
<rect x="820" y="1329.3" width="9" height="2.4" fill="#111" />
<rect x="820" y="1395.8" width="9" height="2.4" fill="#111" />
<rect x="866" y="1329.3" width="9" height="2.4" fill="#111" />
<rect x="866" y="1395.8" width="9" height="2.4" fill="#111" />
<rect x="866" y="1479.8" width="9" height="2.4" fill="#111" />
<rect x="854" y="1040" width="2.5" height="12" fill="#111" />
<rect x="854" y="1096" width="2.5" height="12" fill="#111" />
<rect x="854" y="1152" width="2.5" height="12" fill="#111" />
<rect x="907.5" y="648" width="45.5" height="52" fill="#d2d2d2" />
<rect x="907.5" y="665" width="15.5" height="35" fill="#c8c8c8" stroke="#999" stroke-width="0.8"/>
<line x1="907.5" y1="672" x2="923" y2="672" stroke="#aaa" stroke-width="0.8" />
<line x1="907.5" y1="679" x2="923" y2="679" stroke="#aaa" stroke-width="0.8" />
<line x1="907.5" y1="686" x2="923" y2="686" stroke="#aaa" stroke-width="0.8" />
<line x1="907.5" y1="693" x2="923" y2="693" stroke="#aaa" stroke-width="0.8" />
<rect x="758.7" y="621" width="223.3" height="25.6" fill="#dcdcdc" />
<circle cx="783" cy="626" r="17" fill="#d9d9d9" stroke="#a8a8a8" stroke-width="1.2"/>
<circle cx="828.5" cy="626" r="17" fill="#d9d9d9" stroke="#a8a8a8" stroke-width="1.2"/>
<circle cx="874" cy="626" r="17" fill="#d9d9d9" stroke="#a8a8a8" stroke-width="1.2"/>
<circle cx="919.5" cy="626" r="17" fill="#d9d9d9" stroke="#a8a8a8" stroke-width="1.2"/>
<rect x="953" y="621" width="29" height="25.6" fill="#d6d6d6" stroke="#111" stroke-width="1.5"/>
<line x1="758.7" y1="646.6" x2="982" y2="646.6" stroke="#111" stroke-width="2" />
<rect x="982" y="621" width="884" height="29" fill="#6f8a4e" filter="url(#lawnf)"/>
<rect x="954" y="649" width="773" height="16" fill="#cbcbcb" />
<rect x="1253" y="632" width="368" height="18" fill="#cbcbcb" />
<rect x="1621" y="646" width="106" height="4" fill="#cbcbcb" />
<rect x="1727" y="621" width="139" height="44" fill="#6f8a4e" filter="url(#lawnf)"/>
<line x1="982" y1="648" x2="1253" y2="648" stroke="#55703a" stroke-width="3" />
<line x1="1253" y1="631" x2="1621" y2="631" stroke="#55703a" stroke-width="2" />
<line x1="1621" y1="645" x2="1727" y2="645" stroke="#55703a" stroke-width="2" />
<line x1="954" y1="664.5" x2="1150" y2="664.5" stroke="#8a7c74" stroke-width="2.5" />
<line x1="1253" y1="632" x2="1253" y2="648" stroke="#8a7c74" stroke-width="1.5" />
<rect x="1202" y="648" width="24" height="7" fill="#b3aaa4" />
<rect x="1228" y="648" width="22" height="7" fill="#b3aaa4" />
<polygon points="1826,621 1852.8,621 1878.9,840 1826,840" fill="#6f8a4e" filter="url(#lawnf)"/>
<rect x="955" y="665" width="86" height="262" fill="#6f8a4e" filter="url(#lawnf)"/>
<rect x="955" y="665" width="37" height="55" fill="#d8d8d8" stroke="#111" stroke-width="1.6"/>
<rect x="972" y="674" width="8" height="34" fill="#f2f2f2" stroke="#111" stroke-width="1.2"/>
<pattern id="fine" width="3.2" height="3.2" patternUnits="userSpaceOnUse"><rect width="3.2" height="3.2" fill="#d3d3d3"/><path d="M0 0.5H3.2M0.5 0V3.2" stroke="#c6c6c6" stroke-width="0.8"/></pattern>
<rect x="1041" y="840" width="791" height="92" fill="url(#fine)" />
<rect x="1022" y="932" width="870" height="56" fill="url(#fine)" />
<rect x="1041" y="988" width="749" height="113" fill="url(#fine)" />
<line x1="1041.5" y1="840" x2="1041.5" y2="932" stroke="#f4f4f4" stroke-width="2" />
<line x1="1041.5" y1="988" x2="1041.5" y2="1100" stroke="#f4f4f4" stroke-width="2" />
<line x1="1023" y1="932" x2="1023" y2="988" stroke="#f4f4f4" stroke-width="2" />
<line x1="1066" y1="841" x2="1066" y2="931" stroke="#a3a3a3" stroke-width="1" />
<line x1="1088.3" y1="841" x2="1088.3" y2="931" stroke="#a3a3a3" stroke-width="1" />
<line x1="1110.7" y1="841" x2="1110.7" y2="931" stroke="#a3a3a3" stroke-width="1" />
<line x1="1133" y1="841" x2="1133" y2="931" stroke="#a3a3a3" stroke-width="1" />
<line x1="1155.4" y1="841" x2="1155.4" y2="931" stroke="#a3a3a3" stroke-width="1" />
<line x1="1177.7" y1="841" x2="1177.7" y2="931" stroke="#a3a3a3" stroke-width="1" />
<line x1="1200.1" y1="841" x2="1200.1" y2="931" stroke="#a3a3a3" stroke-width="1" />
<line x1="1222.4" y1="841" x2="1222.4" y2="931" stroke="#a3a3a3" stroke-width="1" />
<line x1="1244.8" y1="841" x2="1244.8" y2="931" stroke="#a3a3a3" stroke-width="1" />
<line x1="1267.1" y1="841" x2="1267.1" y2="931" stroke="#a3a3a3" stroke-width="1" />
<line x1="1289.5" y1="841" x2="1289.5" y2="931" stroke="#a3a3a3" stroke-width="1" />
<line x1="1311.8" y1="841" x2="1311.8" y2="931" stroke="#a3a3a3" stroke-width="1" />
<line x1="1334.2" y1="841" x2="1334.2" y2="931" stroke="#a3a3a3" stroke-width="1" />
<line x1="1356.5" y1="841" x2="1356.5" y2="931" stroke="#a3a3a3" stroke-width="1" />
<line x1="1378.9" y1="841" x2="1378.9" y2="931" stroke="#a3a3a3" stroke-width="1" />
<line x1="1401.2" y1="841" x2="1401.2" y2="931" stroke="#a3a3a3" stroke-width="1" />
<line x1="1468.3" y1="841" x2="1468.3" y2="931" stroke="#a3a3a3" stroke-width="1" />
<line x1="1490.6" y1="841" x2="1490.6" y2="931" stroke="#a3a3a3" stroke-width="1" />
<line x1="1513" y1="841" x2="1513" y2="931" stroke="#a3a3a3" stroke-width="1" />
<line x1="1535.3" y1="841" x2="1535.3" y2="931" stroke="#a3a3a3" stroke-width="1" />
<line x1="1557.7" y1="841" x2="1557.7" y2="931" stroke="#a3a3a3" stroke-width="1" />
<line x1="1580" y1="841" x2="1580" y2="931" stroke="#a3a3a3" stroke-width="1" />
<line x1="1602.4" y1="841" x2="1602.4" y2="931" stroke="#a3a3a3" stroke-width="1" />
<line x1="1624.7" y1="841" x2="1624.7" y2="931" stroke="#a3a3a3" stroke-width="1" />
<line x1="1647.1" y1="841" x2="1647.1" y2="931" stroke="#a3a3a3" stroke-width="1" />
<line x1="1669.4" y1="841" x2="1669.4" y2="931" stroke="#a3a3a3" stroke-width="1" />
<line x1="1691.8" y1="841" x2="1691.8" y2="931" stroke="#a3a3a3" stroke-width="1" />
<line x1="1714.1" y1="841" x2="1714.1" y2="931" stroke="#a3a3a3" stroke-width="1" />
<line x1="1736.5" y1="841" x2="1736.5" y2="931" stroke="#a3a3a3" stroke-width="1" />
<line x1="1758.8" y1="841" x2="1758.8" y2="931" stroke="#a3a3a3" stroke-width="1" />
<line x1="1781.2" y1="841" x2="1781.2" y2="931" stroke="#a3a3a3" stroke-width="1" />
<line x1="1803.5" y1="841" x2="1803.5" y2="931" stroke="#a3a3a3" stroke-width="1" />
<line x1="1825.9" y1="841" x2="1825.9" y2="931" stroke="#a3a3a3" stroke-width="1" />
<line x1="1041" y1="886" x2="1832" y2="886" stroke="#a3a3a3" stroke-width="1" />
<line x1="1041" y1="931.5" x2="1832" y2="931.5" stroke="#a3a3a3" stroke-width="1" />
<line x1="1068.2" y1="988" x2="1068.2" y2="1100" stroke="#a3a3a3" stroke-width="1" />
<line x1="1093.6" y1="988" x2="1093.6" y2="1100" stroke="#a3a3a3" stroke-width="1" />
<line x1="1119" y1="988" x2="1119" y2="1100" stroke="#a3a3a3" stroke-width="1" />
<line x1="1144.4" y1="988" x2="1144.4" y2="1100" stroke="#a3a3a3" stroke-width="1" />
<line x1="1169.8" y1="988" x2="1169.8" y2="1100" stroke="#a3a3a3" stroke-width="1" />
<line x1="1195.2" y1="988" x2="1195.2" y2="1100" stroke="#a3a3a3" stroke-width="1" />
<line x1="1220.6" y1="988" x2="1220.6" y2="1100" stroke="#a3a3a3" stroke-width="1" />
<line x1="1246" y1="988" x2="1246" y2="1100" stroke="#a3a3a3" stroke-width="1" />
<line x1="1271.4" y1="988" x2="1271.4" y2="1100" stroke="#a3a3a3" stroke-width="1" />
<line x1="1296.8" y1="988" x2="1296.8" y2="1100" stroke="#a3a3a3" stroke-width="1" />
<line x1="1322.2" y1="988" x2="1322.2" y2="1100" stroke="#a3a3a3" stroke-width="1" />
<line x1="1347.6" y1="988" x2="1347.6" y2="1100" stroke="#a3a3a3" stroke-width="1" />
<line x1="1373" y1="988" x2="1373" y2="1100" stroke="#a3a3a3" stroke-width="1" />
<line x1="1398.4" y1="988" x2="1398.4" y2="1100" stroke="#a3a3a3" stroke-width="1" />
<line x1="1500" y1="988" x2="1500" y2="1100" stroke="#a3a3a3" stroke-width="1" />
<line x1="1525.4" y1="988" x2="1525.4" y2="1100" stroke="#a3a3a3" stroke-width="1" />
<line x1="1550.8" y1="988" x2="1550.8" y2="1100" stroke="#a3a3a3" stroke-width="1" />
<line x1="1576.2" y1="988" x2="1576.2" y2="1100" stroke="#a3a3a3" stroke-width="1" />
<line x1="1601.6" y1="988" x2="1601.6" y2="1100" stroke="#a3a3a3" stroke-width="1" />
<line x1="1627" y1="988" x2="1627" y2="1100" stroke="#a3a3a3" stroke-width="1" />
<line x1="1652.4" y1="988" x2="1652.4" y2="1100" stroke="#a3a3a3" stroke-width="1" />
<line x1="1677.8" y1="988" x2="1677.8" y2="1100" stroke="#a3a3a3" stroke-width="1" />
<line x1="1703.2" y1="988" x2="1703.2" y2="1100" stroke="#a3a3a3" stroke-width="1" />
<line x1="1728.6" y1="988" x2="1728.6" y2="1100" stroke="#a3a3a3" stroke-width="1" />
<line x1="1754" y1="988" x2="1754" y2="1100" stroke="#a3a3a3" stroke-width="1" />
<line x1="1779.4" y1="988" x2="1779.4" y2="1100" stroke="#a3a3a3" stroke-width="1" />
<line x1="1041" y1="988" x2="1790" y2="988" stroke="#a3a3a3" stroke-width="1" />
<line x1="1041" y1="1045" x2="1790" y2="1045" stroke="#a3a3a3" stroke-width="1" />
<rect x="1830" y="840" width="55" height="78" fill="#d5d5d5" stroke="#111" stroke-width="1.6"/>
<rect x="1834" y="845" width="46" height="60" fill="#dcdcdc" />
<line x1="1858" y1="924" x2="1892" y2="924" stroke="#111" stroke-width="1.5" />
<rect x="1041" y="1100" width="439" height="6" fill="#5b7a3c" />
<rect x="1450" y="1099" width="342" height="17" fill="url(#fine)" />
<line x1="1480" y1="1100" x2="1790" y2="1100" stroke="#85766e" stroke-width="2" />
<line x1="1484" y1="1114.5" x2="1790" y2="1114.5" stroke="#85766e" stroke-width="2" />
<rect x="1484" y="1115.5" width="64" height="4.5" fill="#4d6a35" />
<g transform="translate(1041,665) scale(1.0013,1.0000)">
<rect x="0" y="0" width="371" height="174" fill="url(#fine)"/>
<rect x="0.8" y="0.8" width="369.4" height="172.4" fill="none" stroke="#ececec" stroke-width="1.6"/>
<line x1="92.6" y1="0" x2="92.6" y2="174" stroke="#ececec" stroke-width="1.4"/>
<line x1="185.5" y1="0" x2="185.5" y2="174" stroke="#ececec" stroke-width="1.4"/>
<line x1="278.4" y1="0" x2="278.4" y2="174" stroke="#ececec" stroke-width="1.4"/>
<line x1="0" y1="87.5" x2="92.6" y2="87.5" stroke="#ececec" stroke-width="1.4"/>
<line x1="278.4" y1="87.5" x2="371" y2="87.5" stroke="#ececec" stroke-width="1.4"/>
<path d="M109 -1 V25 H134 V12 H163 V21 H208 V12 H237 V25 H277.6 V-1 Z" fill="url(#fine)" stroke="#7d6e66" stroke-width="2.2"/>
<polygon points="16.4,21.5 50.4,21.5 50.4,35.6 76.1,35.6 76.1,26.5 92.6,26.5 92.6,147.6 76.1,147.6 76.1,138.4 50.4,138.4 50.4,152.5 16.4,152.5 16.4,130 12,130 12,112 16.4,112 16.4,62 12,62 12,44 16.4,44" fill="#c6c6c6" stroke="#111" stroke-width="2.3" stroke-linejoin="miter"/>
<polygon points="354.6,21.5 320.6,21.5 320.6,35.6 294.9,35.6 294.9,26.5 278.4,26.5 278.4,147.6 294.9,147.6 294.9,138.4 320.6,138.4 320.6,152.5 354.6,152.5 354.6,130 359,130 359,112 354.6,112 354.6,62 359,62 359,44 354.6,44" fill="#c6c6c6" stroke="#111" stroke-width="2.3" stroke-linejoin="miter"/>
<line x1="16.4" y1="87.5" x2="92.6" y2="87.5" stroke="#111" stroke-width="1.6"/>
<line x1="278.4" y1="87.5" x2="354.6" y2="87.5" stroke="#111" stroke-width="1.6"/>
<polygon points="92.6,93 278.4,93 278.4,147.6 237,147.6 237,160.7 208.5,160.7 208.5,153.6 163,153.6 163,160.7 134.7,160.7 134.7,147.6 92.6,147.6" fill="#c6c6c6" stroke="#111" stroke-width="2.3" stroke-linejoin="miter"/>
<line x1="185.5" y1="120" x2="185.5" y2="154" stroke="#111" stroke-width="2"/>
<rect x="149" y="99" width="72.6" height="21" fill="#ececec" stroke="#111" stroke-width="2"/>
<line x1="173" y1="99" x2="173" y2="120" stroke="#111" stroke-width="1.5"/><line x1="197" y1="99" x2="197" y2="120" stroke="#111" stroke-width="1.5"/>
<rect x="93" y="26" width="41.7" height="67" fill="#e2e1da" stroke="#777" stroke-width="0.8"/>
<rect x="83.5" y="69" width="33.5" height="33" fill="#e2e1da" stroke="#111" stroke-width="1.8"/>
<rect x="254" y="69" width="33.5" height="33" fill="#dedede" stroke="#111" stroke-width="1.8"/>
<rect x="134.7" y="12" width="102.3" height="45" fill="#a2a2a2" stroke="#111" stroke-width="2"/>
<rect x="149" y="14" width="14" height="40" fill="#b8b8b8"/>
<rect x="221.6" y="14" width="13" height="40" fill="#dcdcdc" stroke="#444" stroke-width="0.8"/>
<path d="M149 12 V57 M163 21 V57 M184.7 21 V57 M208.5 21 V57 M221.6 12 V57" stroke="#111" stroke-width="1.6"/>
<rect x="149" y="57" width="77" height="4" fill="#eeeeee" stroke="#111" stroke-width="1"/>
<rect x="250" y="26" width="27.6" height="43" fill="#a8a8a8" stroke="#111" stroke-width="1.6"/>
<line x1="250" y1="49" x2="277.6" y2="49" stroke="#111" stroke-width="1.4"/>
</g>
<g transform="translate(1452,665) scale(1.0040,1.0000)">
<rect x="0" y="0" width="371" height="174" fill="url(#fine)"/>
<rect x="0.8" y="0.8" width="369.4" height="172.4" fill="none" stroke="#ececec" stroke-width="1.6"/>
<line x1="92.6" y1="0" x2="92.6" y2="174" stroke="#ececec" stroke-width="1.4"/>
<line x1="185.5" y1="0" x2="185.5" y2="174" stroke="#ececec" stroke-width="1.4"/>
<line x1="278.4" y1="0" x2="278.4" y2="174" stroke="#ececec" stroke-width="1.4"/>
<line x1="0" y1="87.5" x2="92.6" y2="87.5" stroke="#ececec" stroke-width="1.4"/>
<line x1="278.4" y1="87.5" x2="371" y2="87.5" stroke="#ececec" stroke-width="1.4"/>
<path d="M109 -1 V25 H134 V12 H163 V21 H208 V12 H237 V25 H277.6 V-1 Z" fill="url(#fine)" stroke="#7d6e66" stroke-width="2.2"/>
<polygon points="16.4,21.5 50.4,21.5 50.4,35.6 76.1,35.6 76.1,26.5 92.6,26.5 92.6,147.6 76.1,147.6 76.1,138.4 50.4,138.4 50.4,152.5 16.4,152.5 16.4,130 12,130 12,112 16.4,112 16.4,62 12,62 12,44 16.4,44" fill="#c6c6c6" stroke="#111" stroke-width="2.3" stroke-linejoin="miter"/>
<polygon points="354.6,21.5 320.6,21.5 320.6,35.6 294.9,35.6 294.9,26.5 278.4,26.5 278.4,147.6 294.9,147.6 294.9,138.4 320.6,138.4 320.6,152.5 354.6,152.5 354.6,130 359,130 359,112 354.6,112 354.6,62 359,62 359,44 354.6,44" fill="#c6c6c6" stroke="#111" stroke-width="2.3" stroke-linejoin="miter"/>
<line x1="16.4" y1="87.5" x2="92.6" y2="87.5" stroke="#111" stroke-width="1.6"/>
<line x1="278.4" y1="87.5" x2="354.6" y2="87.5" stroke="#111" stroke-width="1.6"/>
<polygon points="92.6,93 278.4,93 278.4,147.6 237,147.6 237,160.7 208.5,160.7 208.5,153.6 163,153.6 163,160.7 134.7,160.7 134.7,147.6 92.6,147.6" fill="#c6c6c6" stroke="#111" stroke-width="2.3" stroke-linejoin="miter"/>
<line x1="185.5" y1="120" x2="185.5" y2="154" stroke="#111" stroke-width="2"/>
<rect x="149" y="99" width="72.6" height="21" fill="#ececec" stroke="#111" stroke-width="2"/>
<line x1="173" y1="99" x2="173" y2="120" stroke="#111" stroke-width="1.5"/><line x1="197" y1="99" x2="197" y2="120" stroke="#111" stroke-width="1.5"/>
<rect x="93" y="26" width="41.7" height="67" fill="#e2e1da" stroke="#777" stroke-width="0.8"/>
<rect x="83.5" y="69" width="33.5" height="33" fill="#e2e1da" stroke="#111" stroke-width="1.8"/>
<rect x="254" y="69" width="33.5" height="33" fill="#dedede" stroke="#111" stroke-width="1.8"/>
<rect x="134.7" y="12" width="102.3" height="45" fill="#a2a2a2" stroke="#111" stroke-width="2"/>
<rect x="149" y="14" width="14" height="40" fill="#b8b8b8"/>
<rect x="221.6" y="14" width="13" height="40" fill="#dcdcdc" stroke="#444" stroke-width="0.8"/>
<path d="M149 12 V57 M163 21 V57 M184.7 21 V57 M208.5 21 V57 M221.6 12 V57" stroke="#111" stroke-width="1.6"/>
<rect x="149" y="57" width="77" height="4" fill="#eeeeee" stroke="#111" stroke-width="1"/>
<rect x="250" y="26" width="27.6" height="43" fill="#a8a8a8" stroke="#111" stroke-width="1.6"/>
<line x1="250" y1="49" x2="277.6" y2="49" stroke="#111" stroke-width="1.4"/>
</g>
<rect x="1664.5" y="679.5" width="22.5" height="37.5" fill="#3f5a30" stroke="#111" stroke-width="1.5"/>
<rect x="1667" y="682" width="17" height="12" fill="#4d7a5a" />
<rect x="1687" y="693.6" width="42" height="50.4" fill="#e3e0d8" />
<rect x="1603" y="719" width="63" height="27" fill="#d4d4d4" stroke="#111" stroke-width="1.8"/>
<rect x="1618" y="731" width="32" height="9" fill="#cacaca" stroke="#111" stroke-width="1.2"/>
<rect x="1318" y="651" width="94" height="13" fill="#56743a" stroke="#7d6e66" stroke-width="1.2"/>
<rect x="1458" y="652" width="103" height="12" fill="#56743a" stroke="#7d6e66" stroke-width="1.2"/>
<g transform="translate(1080,1281) scale(0.9704,-1.0057)">
<rect x="0" y="0" width="371" height="174" fill="url(#fine)"/>
<rect x="0.8" y="0.8" width="369.4" height="172.4" fill="none" stroke="#ececec" stroke-width="1.6"/>
<line x1="92.6" y1="0" x2="92.6" y2="174" stroke="#ececec" stroke-width="1.4"/>
<line x1="185.5" y1="0" x2="185.5" y2="174" stroke="#ececec" stroke-width="1.4"/>
<line x1="278.4" y1="0" x2="278.4" y2="174" stroke="#ececec" stroke-width="1.4"/>
<line x1="0" y1="87.5" x2="92.6" y2="87.5" stroke="#ececec" stroke-width="1.4"/>
<line x1="278.4" y1="87.5" x2="371" y2="87.5" stroke="#ececec" stroke-width="1.4"/>
<path d="M109 -1 V25 H134 V12 H163 V21 H208 V12 H237 V25 H277.6 V-1 Z" fill="url(#fine)" stroke="#7d6e66" stroke-width="2.2"/>
<polygon points="16.4,21.5 50.4,21.5 50.4,35.6 76.1,35.6 76.1,26.5 92.6,26.5 92.6,147.6 76.1,147.6 76.1,138.4 50.4,138.4 50.4,152.5 16.4,152.5 16.4,130 12,130 12,112 16.4,112 16.4,62 12,62 12,44 16.4,44" fill="#c6c6c6" stroke="#111" stroke-width="2.3" stroke-linejoin="miter"/>
<polygon points="354.6,21.5 320.6,21.5 320.6,35.6 294.9,35.6 294.9,26.5 278.4,26.5 278.4,147.6 294.9,147.6 294.9,138.4 320.6,138.4 320.6,152.5 354.6,152.5 354.6,130 359,130 359,112 354.6,112 354.6,62 359,62 359,44 354.6,44" fill="#c6c6c6" stroke="#111" stroke-width="2.3" stroke-linejoin="miter"/>
<line x1="16.4" y1="87.5" x2="92.6" y2="87.5" stroke="#111" stroke-width="1.6"/>
<line x1="278.4" y1="87.5" x2="354.6" y2="87.5" stroke="#111" stroke-width="1.6"/>
<polygon points="92.6,93 278.4,93 278.4,147.6 237,147.6 237,160.7 208.5,160.7 208.5,153.6 163,153.6 163,160.7 134.7,160.7 134.7,147.6 92.6,147.6" fill="#c6c6c6" stroke="#111" stroke-width="2.3" stroke-linejoin="miter"/>
<line x1="185.5" y1="120" x2="185.5" y2="154" stroke="#111" stroke-width="2"/>
<rect x="149" y="99" width="72.6" height="21" fill="#ececec" stroke="#111" stroke-width="2"/>
<line x1="173" y1="99" x2="173" y2="120" stroke="#111" stroke-width="1.5"/><line x1="197" y1="99" x2="197" y2="120" stroke="#111" stroke-width="1.5"/>
<rect x="93" y="26" width="41.7" height="67" fill="#e2e1da" stroke="#777" stroke-width="0.8"/>
<rect x="83.5" y="69" width="33.5" height="33" fill="#e2e1da" stroke="#111" stroke-width="1.8"/>
<rect x="254" y="69" width="33.5" height="33" fill="#dedede" stroke="#111" stroke-width="1.8"/>
<rect x="134.7" y="12" width="102.3" height="45" fill="#a2a2a2" stroke="#111" stroke-width="2"/>
<rect x="149" y="14" width="14" height="40" fill="#b8b8b8"/>
<rect x="221.6" y="14" width="13" height="40" fill="#dcdcdc" stroke="#444" stroke-width="0.8"/>
<path d="M149 12 V57 M163 21 V57 M184.7 21 V57 M208.5 21 V57 M221.6 12 V57" stroke="#111" stroke-width="1.6"/>
<rect x="149" y="57" width="77" height="4" fill="#eeeeee" stroke="#111" stroke-width="1"/>
<rect x="250" y="26" width="27.6" height="43" fill="#a8a8a8" stroke="#111" stroke-width="1.6"/>
<line x1="250" y1="49" x2="277.6" y2="49" stroke="#111" stroke-width="1.4"/>
</g>
<g transform="translate(1078,1388) scale(0.9811,1.0057)">
<rect x="0" y="0" width="371" height="174" fill="url(#fine)"/>
<rect x="0.8" y="0.8" width="369.4" height="172.4" fill="none" stroke="#ececec" stroke-width="1.6"/>
<line x1="92.6" y1="0" x2="92.6" y2="174" stroke="#ececec" stroke-width="1.4"/>
<line x1="185.5" y1="0" x2="185.5" y2="174" stroke="#ececec" stroke-width="1.4"/>
<line x1="278.4" y1="0" x2="278.4" y2="174" stroke="#ececec" stroke-width="1.4"/>
<line x1="0" y1="87.5" x2="92.6" y2="87.5" stroke="#ececec" stroke-width="1.4"/>
<line x1="278.4" y1="87.5" x2="371" y2="87.5" stroke="#ececec" stroke-width="1.4"/>
<path d="M109 -1 V25 H134 V12 H163 V21 H208 V12 H237 V25 H277.6 V-1 Z" fill="url(#fine)" stroke="#7d6e66" stroke-width="2.2"/>
<polygon points="16.4,21.5 50.4,21.5 50.4,35.6 76.1,35.6 76.1,26.5 92.6,26.5 92.6,147.6 76.1,147.6 76.1,138.4 50.4,138.4 50.4,152.5 16.4,152.5 16.4,130 12,130 12,112 16.4,112 16.4,62 12,62 12,44 16.4,44" fill="#c6c6c6" stroke="#111" stroke-width="2.3" stroke-linejoin="miter"/>
<polygon points="354.6,21.5 320.6,21.5 320.6,35.6 294.9,35.6 294.9,26.5 278.4,26.5 278.4,147.6 294.9,147.6 294.9,138.4 320.6,138.4 320.6,152.5 354.6,152.5 354.6,130 359,130 359,112 354.6,112 354.6,62 359,62 359,44 354.6,44" fill="#c6c6c6" stroke="#111" stroke-width="2.3" stroke-linejoin="miter"/>
<line x1="16.4" y1="87.5" x2="92.6" y2="87.5" stroke="#111" stroke-width="1.6"/>
<line x1="278.4" y1="87.5" x2="354.6" y2="87.5" stroke="#111" stroke-width="1.6"/>
<polygon points="92.6,93 278.4,93 278.4,147.6 237,147.6 237,160.7 208.5,160.7 208.5,153.6 163,153.6 163,160.7 134.7,160.7 134.7,147.6 92.6,147.6" fill="#c6c6c6" stroke="#111" stroke-width="2.3" stroke-linejoin="miter"/>
<line x1="185.5" y1="120" x2="185.5" y2="154" stroke="#111" stroke-width="2"/>
<rect x="149" y="99" width="72.6" height="21" fill="#ececec" stroke="#111" stroke-width="2"/>
<line x1="173" y1="99" x2="173" y2="120" stroke="#111" stroke-width="1.5"/><line x1="197" y1="99" x2="197" y2="120" stroke="#111" stroke-width="1.5"/>
<rect x="93" y="26" width="41.7" height="67" fill="#e2e1da" stroke="#777" stroke-width="0.8"/>
<rect x="83.5" y="69" width="33.5" height="33" fill="#e2e1da" stroke="#111" stroke-width="1.8"/>
<rect x="254" y="69" width="33.5" height="33" fill="#dedede" stroke="#111" stroke-width="1.8"/>
<rect x="134.7" y="12" width="102.3" height="45" fill="#a2a2a2" stroke="#111" stroke-width="2"/>
<rect x="149" y="14" width="14" height="40" fill="#b8b8b8"/>
<rect x="221.6" y="14" width="13" height="40" fill="#dcdcdc" stroke="#444" stroke-width="0.8"/>
<path d="M149 12 V57 M163 21 V57 M184.7 21 V57 M208.5 21 V57 M221.6 12 V57" stroke="#111" stroke-width="1.6"/>
<rect x="149" y="57" width="77" height="4" fill="#eeeeee" stroke="#111" stroke-width="1"/>
<rect x="250" y="26" width="27.6" height="43" fill="#a8a8a8" stroke="#111" stroke-width="1.6"/>
<line x1="250" y1="49" x2="277.6" y2="49" stroke="#111" stroke-width="1.4"/>
</g>
<rect x="1412" y="648" width="41" height="287" fill="url(#fine)" />
<rect x="1412" y="652" width="12.5" height="132" fill="#5e7f3e" />
<rect x="1440" y="652" width="13.5" height="132" fill="#5e7f3e" />
<line x1="1424.5" y1="784" x2="1424.5" y2="935" stroke="#7a6d66" stroke-width="2" />
<rect x="1022" y="1106" width="428" height="510" fill="#6f8a4e" filter="url(#lawnf)"/>
<rect x="1024" y="1106" width="8" height="502" fill="#8aa06c" opacity="0.55"/>
<rect x="1032" y="1600" width="414" height="8" fill="#8aa06c" opacity="0.55"/>
<rect x="1086" y="1099" width="364" height="6.5" fill="#55703a" />
<rect x="1441.5" y="1099" width="8.5" height="189" fill="#55703a" />
<g transform="translate(1086.6,1281.8) scale(0.9569,-1.0115)">
<rect x="0" y="0" width="371" height="174" fill="url(#fine)"/>
<rect x="0.8" y="0.8" width="369.4" height="172.4" fill="none" stroke="#ececec" stroke-width="1.6"/>
<line x1="92.6" y1="0" x2="92.6" y2="174" stroke="#ececec" stroke-width="1.4"/>
<line x1="185.5" y1="0" x2="185.5" y2="174" stroke="#ececec" stroke-width="1.4"/>
<line x1="278.4" y1="0" x2="278.4" y2="174" stroke="#ececec" stroke-width="1.4"/>
<line x1="0" y1="87.5" x2="92.6" y2="87.5" stroke="#ececec" stroke-width="1.4"/>
<line x1="278.4" y1="87.5" x2="371" y2="87.5" stroke="#ececec" stroke-width="1.4"/>
<path d="M109 -1 V25 H134 V12 H163 V21 H208 V12 H237 V25 H277.6 V-1 Z" fill="url(#fine)" stroke="#7d6e66" stroke-width="2.2"/>
<polygon points="16.4,21.5 50.4,21.5 50.4,35.6 76.1,35.6 76.1,26.5 92.6,26.5 92.6,147.6 76.1,147.6 76.1,138.4 50.4,138.4 50.4,152.5 16.4,152.5 16.4,130 12,130 12,112 16.4,112 16.4,62 12,62 12,44 16.4,44" fill="#c6c6c6" stroke="#111" stroke-width="2.3" stroke-linejoin="miter"/>
<polygon points="354.6,21.5 320.6,21.5 320.6,35.6 294.9,35.6 294.9,26.5 278.4,26.5 278.4,147.6 294.9,147.6 294.9,138.4 320.6,138.4 320.6,152.5 354.6,152.5 354.6,130 359,130 359,112 354.6,112 354.6,62 359,62 359,44 354.6,44" fill="#c6c6c6" stroke="#111" stroke-width="2.3" stroke-linejoin="miter"/>
<line x1="16.4" y1="87.5" x2="92.6" y2="87.5" stroke="#111" stroke-width="1.6"/>
<line x1="278.4" y1="87.5" x2="354.6" y2="87.5" stroke="#111" stroke-width="1.6"/>
<polygon points="92.6,93 278.4,93 278.4,147.6 237,147.6 237,160.7 208.5,160.7 208.5,153.6 163,153.6 163,160.7 134.7,160.7 134.7,147.6 92.6,147.6" fill="#c6c6c6" stroke="#111" stroke-width="2.3" stroke-linejoin="miter"/>
<line x1="185.5" y1="120" x2="185.5" y2="154" stroke="#111" stroke-width="2"/>
<rect x="149" y="99" width="72.6" height="21" fill="#ececec" stroke="#111" stroke-width="2"/>
<line x1="173" y1="99" x2="173" y2="120" stroke="#111" stroke-width="1.5"/><line x1="197" y1="99" x2="197" y2="120" stroke="#111" stroke-width="1.5"/>
<rect x="93" y="26" width="41.7" height="67" fill="#e2e1da" stroke="#777" stroke-width="0.8"/>
<rect x="83.5" y="69" width="33.5" height="33" fill="#e2e1da" stroke="#111" stroke-width="1.8"/>
<rect x="254" y="69" width="33.5" height="33" fill="#dedede" stroke="#111" stroke-width="1.8"/>
<rect x="134.7" y="12" width="102.3" height="45" fill="#a2a2a2" stroke="#111" stroke-width="2"/>
<rect x="149" y="14" width="14" height="40" fill="#b8b8b8"/>
<rect x="221.6" y="14" width="13" height="40" fill="#dcdcdc" stroke="#444" stroke-width="0.8"/>
<path d="M149 12 V57 M163 21 V57 M184.7 21 V57 M208.5 21 V57 M221.6 12 V57" stroke="#111" stroke-width="1.6"/>
<rect x="149" y="57" width="77" height="4" fill="#eeeeee" stroke="#111" stroke-width="1"/>
<rect x="250" y="26" width="27.6" height="43" fill="#a8a8a8" stroke="#111" stroke-width="1.6"/>
<line x1="250" y1="49" x2="277.6" y2="49" stroke="#111" stroke-width="1.4"/>
</g>
<rect x="1022" y="1283" width="428" height="14" fill="#c8c8c8" />
<line x1="1022" y1="1283" x2="1450" y2="1283" stroke="#8a7c74" stroke-width="1.5" />
<line x1="1022" y1="1297" x2="1450" y2="1297" stroke="#8a7c74" stroke-width="1.5" />
<rect x="1180" y="1297" width="270" height="93" fill="url(#fine)" />
<rect x="1066" y="1297" width="138" height="75" fill="#5d7a3c" />
<rect x="1071" y="1298.5" width="132" height="72.5" fill="#e8cf7c" />
<rect x="1076" y="1303" width="122" height="63" fill="#a9a9a9" />
<line x1="1137" y1="1303" x2="1137" y2="1366" stroke="#888" stroke-width="1" />
<path d="M1076 1322 H1094 A12 12 0 0 1 1094 1347 H1076 Z" fill="#e9d27e"/>
<path d="M1198 1322 H1180 A12 12 0 0 0 1180 1347 H1198 Z" fill="#e9d27e"/>
<path d="M1076 1306 A34 34 0 0 1 1076 1363 M1198 1306 A34 34 0 0 0 1198 1363" fill="none" stroke="#888" stroke-width="1"/>
<rect x="1203" y="1296" width="78" height="78" fill="#7c6f66" />
<rect x="1206" y="1299" width="72" height="72" fill="#4f5a3a" />
<rect x="1296" y="1302" width="154" height="64" fill="#7c6f66" />
<rect x="1298.5" y="1304.5" width="96.5" height="59" fill="#e4e3de" />
<rect x="1395" y="1304.5" width="52" height="59" fill="#6a8b44" />
<path d="M1306 1312 L1318 1324 M1318 1312 L1306 1324" stroke="#7d5a48" stroke-width="5" stroke-linecap="round"/>
<path d="M1325 1312 L1337 1324 M1337 1312 L1325 1324" stroke="#7d5a48" stroke-width="5" stroke-linecap="round"/>
<path d="M1306 1342 L1318 1354 M1318 1342 L1306 1354" stroke="#7d5a48" stroke-width="5" stroke-linecap="round"/>
<path d="M1325 1342 L1337 1354 M1337 1342 L1325 1354" stroke="#7d5a48" stroke-width="5" stroke-linecap="round"/>
<rect x="1361" y="1318" width="9" height="30" fill="#6b6460" />
<g transform="translate(1078,1388) scale(0.9811,1.0057)">
<rect x="0" y="0" width="371" height="174" fill="url(#fine)"/>
<rect x="0.8" y="0.8" width="369.4" height="172.4" fill="none" stroke="#ececec" stroke-width="1.6"/>
<line x1="92.6" y1="0" x2="92.6" y2="174" stroke="#ececec" stroke-width="1.4"/>
<line x1="185.5" y1="0" x2="185.5" y2="174" stroke="#ececec" stroke-width="1.4"/>
<line x1="278.4" y1="0" x2="278.4" y2="174" stroke="#ececec" stroke-width="1.4"/>
<line x1="0" y1="87.5" x2="92.6" y2="87.5" stroke="#ececec" stroke-width="1.4"/>
<line x1="278.4" y1="87.5" x2="371" y2="87.5" stroke="#ececec" stroke-width="1.4"/>
<path d="M109 -1 V25 H134 V12 H163 V21 H208 V12 H237 V25 H277.6 V-1 Z" fill="url(#fine)" stroke="#7d6e66" stroke-width="2.2"/>
<polygon points="16.4,21.5 50.4,21.5 50.4,35.6 76.1,35.6 76.1,26.5 92.6,26.5 92.6,147.6 76.1,147.6 76.1,138.4 50.4,138.4 50.4,152.5 16.4,152.5 16.4,130 12,130 12,112 16.4,112 16.4,62 12,62 12,44 16.4,44" fill="#c6c6c6" stroke="#111" stroke-width="2.3" stroke-linejoin="miter"/>
<polygon points="354.6,21.5 320.6,21.5 320.6,35.6 294.9,35.6 294.9,26.5 278.4,26.5 278.4,147.6 294.9,147.6 294.9,138.4 320.6,138.4 320.6,152.5 354.6,152.5 354.6,130 359,130 359,112 354.6,112 354.6,62 359,62 359,44 354.6,44" fill="#c6c6c6" stroke="#111" stroke-width="2.3" stroke-linejoin="miter"/>
<line x1="16.4" y1="87.5" x2="92.6" y2="87.5" stroke="#111" stroke-width="1.6"/>
<line x1="278.4" y1="87.5" x2="354.6" y2="87.5" stroke="#111" stroke-width="1.6"/>
<polygon points="92.6,93 278.4,93 278.4,147.6 237,147.6 237,160.7 208.5,160.7 208.5,153.6 163,153.6 163,160.7 134.7,160.7 134.7,147.6 92.6,147.6" fill="#c6c6c6" stroke="#111" stroke-width="2.3" stroke-linejoin="miter"/>
<line x1="185.5" y1="120" x2="185.5" y2="154" stroke="#111" stroke-width="2"/>
<rect x="149" y="99" width="72.6" height="21" fill="#ececec" stroke="#111" stroke-width="2"/>
<line x1="173" y1="99" x2="173" y2="120" stroke="#111" stroke-width="1.5"/><line x1="197" y1="99" x2="197" y2="120" stroke="#111" stroke-width="1.5"/>
<rect x="93" y="26" width="41.7" height="67" fill="#e2e1da" stroke="#777" stroke-width="0.8"/>
<rect x="83.5" y="69" width="33.5" height="33" fill="#e2e1da" stroke="#111" stroke-width="1.8"/>
<rect x="254" y="69" width="33.5" height="33" fill="#dedede" stroke="#111" stroke-width="1.8"/>
<rect x="134.7" y="12" width="102.3" height="45" fill="#a2a2a2" stroke="#111" stroke-width="2"/>
<rect x="149" y="14" width="14" height="40" fill="#b8b8b8"/>
<rect x="221.6" y="14" width="13" height="40" fill="#dcdcdc" stroke="#444" stroke-width="0.8"/>
<path d="M149 12 V57 M163 21 V57 M184.7 21 V57 M208.5 21 V57 M221.6 12 V57" stroke="#111" stroke-width="1.6"/>
<rect x="149" y="57" width="77" height="4" fill="#eeeeee" stroke="#111" stroke-width="1"/>
<rect x="250" y="26" width="27.6" height="43" fill="#a8a8a8" stroke="#111" stroke-width="1.6"/>
<line x1="250" y1="49" x2="277.6" y2="49" stroke="#111" stroke-width="1.4"/>
</g>
<rect x="1076" y="1551" width="272" height="15" fill="#6f8a4e" filter="url(#lawnf)"/>
<line x1="1078" y1="1550.5" x2="1348" y2="1550.5" stroke="#e6e6e6" stroke-width="1.5" />
<rect x="1064" y="1372" width="116" height="15" fill="#4f6b36" filter="url(#lawnf)"/>
<rect x="1450" y="1100" width="34" height="340" fill="url(#fine)" />
<rect x="1447" y="1106" width="4" height="179" fill="#5b7a3c" />
<rect x="1484" y="1119" width="64" height="84" fill="#e6e5df" stroke="#111" stroke-width="1.2"/>
<path d="M1496 1175 L1506 1185 M1506 1175 L1496 1185" stroke="#7d5a48" stroke-width="4.5" stroke-linecap="round"/>
<path d="M1520 1175 L1530 1185 M1530 1175 L1520 1185" stroke="#7d5a48" stroke-width="4.5" stroke-linecap="round"/>
<path d="M1496 1157 L1506 1167 M1506 1157 L1496 1167" stroke="#7d5a48" stroke-width="4.5" stroke-linecap="round"/>
<path d="M1520 1157 L1530 1167 M1530 1157 L1520 1167" stroke="#7d5a48" stroke-width="4.5" stroke-linecap="round"/>
<rect x="1500" y="1127" width="30" height="10" fill="#7d6258" />
<rect x="1484" y="1203" width="64" height="139" fill="#d9d9db" stroke="#111" stroke-width="1.6"/>
<rect x="1507" y="1207" width="21" height="128" fill="#a59a8f" />
<circle cx="1495" cy="1222" r="4.5" fill="#6d5a6a"/>
<circle cx="1541" cy="1222" r="3.5" fill="#6d5a6a"/>
<circle cx="1495" cy="1245" r="4.5" fill="#6d5a6a"/>
<circle cx="1541" cy="1245" r="3.5" fill="#6d5a6a"/>
<circle cx="1495" cy="1275" r="4.5" fill="#6d5a6a"/>
<circle cx="1541" cy="1275" r="3.5" fill="#6d5a6a"/>
<circle cx="1495" cy="1300" r="4.5" fill="#6d5a6a"/>
<circle cx="1541" cy="1300" r="3.5" fill="#6d5a6a"/>
<circle cx="1495" cy="1320" r="4.5" fill="#6d5a6a"/>
<circle cx="1541" cy="1320" r="3.5" fill="#6d5a6a"/>
<rect x="1508" y="1218" width="10" height="8" fill="#2aa8c8" />
<rect x="1484" y="1342" width="64" height="35" fill="#e6e6e6" stroke="#111" stroke-width="1.4"/>
<line x1="1500" y1="1342" x2="1500" y2="1377" stroke="#111" stroke-width="1.4" />
<line x1="1524" y1="1342" x2="1524" y2="1377" stroke="#111" stroke-width="1.4" />
<line x1="1500" y1="1358" x2="1524" y2="1358" stroke="#111" stroke-width="1.4" />
<rect x="1484" y="1377" width="64" height="6" fill="#c9b396" />
<rect x="1484" y="1383" width="64" height="32" fill="#505050" />
<rect x="1484" y="1415" width="64" height="23" fill="#cdb89a" stroke="#111" stroke-width="1.4"/>
<circle cx="1494" cy="1429" r="3.5" fill="#3a5a9a"/>
<rect x="1500" y="1422" width="5" height="12" fill="#333" />
<rect x="1450" y="1440" width="98" height="169" fill="#e8e1d6" />
<rect x="1492" y="1450" width="50" height="122" fill="#f2ede4" />
<rect x="1494.5" y="1451.5" width="46" height="119" fill="#1a958d" filter="url(#water)"/>
<rect x="1454" y="1513" width="20.5" height="57" fill="#1a958d" filter="url(#water)"/>
<rect x="1454" y="1452" width="12" height="14" fill="#1a958d" filter="url(#water)"/>
<rect x="1456" y="1478" width="20" height="7" fill="#f0ede8" stroke="#bbb" stroke-width="0.8"/>
<rect x="1456" y="1488" width="20" height="7" fill="#f0ede8" stroke="#bbb" stroke-width="0.8"/>
<path d="M1460 1596 h12 M1466 1590 v12" stroke="#7d5a48" stroke-width="5"/>
<linearGradient id="lotg" x1="0" y1="0" x2="1" y2="0"><stop offset="0" stop-color="#b9b9b9"/><stop offset="0.015" stop-color="#c9c9c7"/><stop offset="1" stop-color="#cacac8"/></linearGradient>
<polygon points="1548,1118 1912,1118 1971.2,1616 1548,1616" fill="url(#lotg)" />
<line x1="1548" y1="1118.5" x2="1912" y2="1118.5" stroke="#f2f2f2" stroke-width="2" />
<line x1="1548.5" y1="1118" x2="1548.5" y2="1616" stroke="#f2f2f2" stroke-width="1.5" />
<rect x="1790" y="988" width="102" height="130" fill="url(#fine)" />
<rect x="1837.7" y="1011.5" width="39.1" height="29.5" fill="#e2e2e2" stroke="#111" stroke-width="1.6"/>
<rect x="1840" y="1050" width="60" height="12" fill="#cfcfcf" />
<rect x="1796" y="990" width="40" height="110" fill="#cbcbcb" />
<rect x="1796" y="1006" width="14" height="14" fill="#6a8a45" />
<rect x="1806" y="1018" width="6" height="42" fill="#6a8a45" />
<rect x="1876" y="990" width="26" height="52" fill="#5d7c3c" />
<line x1="1835" y1="1000" x2="1835" y2="1098" stroke="#7a6d66" stroke-width="2" />
<polygon points="1850.3,600 1953.8,600 2076.5,1640 1974.1,1640" fill="#8f8f8f" />
<polygon points="1852.1,615 1864.6,615 1910.4,1000 1897.9,1000" fill="#cfcfcf" />
<polygon points="1864.6,615 1871.6,615 1917.4,1000 1910.4,1000" fill="#6a8a45" />
<polygon points="1889,925 1908.5,925 1916.5,992 1897,992" fill="#c4c4c4" />
<line x1="1855.1" y1="640" x2="1889.6" y2="930" stroke="#3b4a33" stroke-width="2.2" />
<line x1="1912" y1="1118" x2="1971.2" y2="1616" stroke="#6a6a6a" stroke-width="1.2" />
<polygon points="1953.8,600 2200,600 2200,1640 2076.5,1640" fill="#ffffff" />
<g filter="url(#leaf2)"><circle cx="969" cy="740" r="17.5" fill="url(#sh)"/><circle cx="969" cy="771" r="17.5" fill="url(#sh)"/><circle cx="969" cy="800" r="17.5" fill="url(#sh)"/><circle cx="969" cy="826" r="17.5" fill="url(#sh)"/><circle cx="969" cy="852" r="17.5" fill="url(#sh)"/><circle cx="1027.5" cy="701" r="17.5" fill="url(#sh)"/><circle cx="1027.5" cy="755" r="17.5" fill="url(#sh)"/><circle cx="1027.5" cy="790" r="17.5" fill="url(#sh)"/><circle cx="1027.5" cy="822" r="17.5" fill="url(#sh)"/><circle cx="1027.5" cy="855" r="17.5" fill="url(#sh)"/><circle cx="1007" cy="716" r="17.5" fill="url(#sh)"/><circle cx="1000" cy="743" r="16" fill="url(#sh)"/><circle cx="1000" cy="800" r="16" fill="url(#sh)"/><circle cx="1419.8" cy="790.8" r="18" fill="url(#sh)"/><circle cx="1419.8" cy="824.4" r="18" fill="url(#sh)"/><circle cx="1448.9" cy="803" r="18" fill="url(#sh)"/><circle cx="1448.9" cy="836.7" r="18" fill="url(#sh)"/><circle cx="1446" cy="867" r="18" fill="url(#sh)"/><circle cx="1446" cy="897.8" r="18" fill="url(#sh)"/><circle cx="1446" cy="926.9" r="18" fill="url(#sh)"/><circle cx="1430.5" cy="992.6" r="18" fill="url(#sh)"/><circle cx="1461" cy="992.6" r="18" fill="url(#sh)"/><circle cx="1430.5" cy="1019.4" r="18" fill="url(#sh)"/><circle cx="1461" cy="1019.4" r="18" fill="url(#sh)"/><circle cx="1430.5" cy="1046.1" r="18" fill="url(#sh)"/><circle cx="1461" cy="1046.1" r="18" fill="url(#sh)"/><circle cx="1430.5" cy="1072.8" r="18" fill="url(#sh)"/><circle cx="1461" cy="1072.8" r="18" fill="url(#sh)"/><circle cx="1430.5" cy="1099.6" r="18" fill="url(#sh)"/><circle cx="1461" cy="1099.6" r="18" fill="url(#sh)"/><circle cx="1472.8" cy="1118.6" r="17" fill="url(#sh)"/><circle cx="1042.5" cy="1110" r="16" fill="url(#sh)"/><path d="M1418 657 L1438.1 663.2 M1418 657 L1429.4 674.6 M1418 657 L1415.4 677.8 M1418 657 L1402.6 671.3 M1418 657 L1397 658 M1418 657 L1401.3 644.3 M1418 657 L1413.3 636.5 M1418 657 L1427.6 638.3 M1418 657 L1437.4 648.9" stroke="#4a7238" stroke-width="4" stroke-linecap="round"/><path d="M1447 655 L1467.1 661.2 M1447 655 L1458.4 672.6 M1447 655 L1444.4 675.8 M1447 655 L1431.6 669.3 M1447 655 L1426 656 M1447 655 L1430.3 642.3 M1447 655 L1442.3 634.5 M1447 655 L1456.6 636.3 M1447 655 L1466.4 646.9" stroke="#4a7238" stroke-width="4" stroke-linecap="round"/><path d="M1419 752 L1439.1 758.2 M1419 752 L1430.4 769.6 M1419 752 L1416.4 772.8 M1419 752 L1403.6 766.3 M1419 752 L1398 753 M1419 752 L1402.3 739.3 M1419 752 L1414.3 731.5 M1419 752 L1428.6 733.3 M1419 752 L1438.4 743.9" stroke="#4a7238" stroke-width="4" stroke-linecap="round"/><path d="M1447 752 L1467.1 758.2 M1447 752 L1458.4 769.6 M1447 752 L1444.4 772.8 M1447 752 L1431.6 766.3 M1447 752 L1426 753 M1447 752 L1430.3 739.3 M1447 752 L1442.3 731.5 M1447 752 L1456.6 733.3 M1447 752 L1466.4 743.9" stroke="#4a7238" stroke-width="4" stroke-linecap="round"/><circle cx="1872" cy="646" r="25" fill="url(#sh)"/><circle cx="1894.7" cy="798" r="27" fill="url(#sh)"/><circle cx="1902" cy="862" r="28" fill="url(#sh)"/><circle cx="1909" cy="922" r="27" fill="url(#sh)"/><circle cx="1915.6" cy="1006.8" r="28" fill="url(#sh)"/><circle cx="1928.4" cy="1100.8" r="28" fill="url(#sh)"/><circle cx="1883.7" cy="1096" r="28" fill="url(#sh)"/><circle cx="1848.7" cy="1104" r="25" fill="url(#sh)"/><circle cx="1805.6" cy="995.6" r="23" fill="url(#sh)"/><circle cx="1821.6" cy="1056" r="21" fill="url(#sh)"/><circle cx="1808.8" cy="1091" r="23" fill="url(#sh)"/><circle cx="966" cy="736" r="14.5" fill="url(#tg2)"/><circle cx="966" cy="767" r="14.5" fill="url(#tg2)"/><circle cx="966" cy="796" r="14.5" fill="url(#tg2)"/><circle cx="966" cy="822" r="14.5" fill="url(#tg2)"/><circle cx="966" cy="848" r="14.5" fill="url(#tg2)"/><circle cx="1024.5" cy="697" r="14.5" fill="url(#tg2)"/><circle cx="1024.5" cy="751" r="14.5" fill="url(#tg2)"/><circle cx="1024.5" cy="786" r="14.5" fill="url(#tg2)"/><circle cx="1024.5" cy="818" r="14.5" fill="url(#tg2)"/><circle cx="1024.5" cy="851" r="14.5" fill="url(#tg2)"/><circle cx="1004" cy="712" r="14.5" fill="url(#tg2)"/><circle cx="997" cy="739" r="13" fill="url(#tg6)"/><circle cx="997" cy="796" r="13" fill="url(#tg6)"/><circle cx="1416.8" cy="786.8" r="15" fill="url(#tg8)"/><circle cx="1416.8" cy="820.4" r="15" fill="url(#tg8)"/><circle cx="1445.9" cy="799" r="15" fill="url(#tg8)"/><circle cx="1445.9" cy="832.7" r="15" fill="url(#tg8)"/><circle cx="1443" cy="863" r="15" fill="url(#tg8)"/><circle cx="1443" cy="893.8" r="15" fill="url(#tg8)"/><circle cx="1443" cy="922.9" r="15" fill="url(#tg8)"/><circle cx="1427.5" cy="988.6" r="15" fill="url(#tg8)"/><circle cx="1458" cy="988.6" r="15" fill="url(#tg8)"/><circle cx="1427.5" cy="1015.4" r="15" fill="url(#tg8)"/><circle cx="1458" cy="1015.4" r="15" fill="url(#tg8)"/><circle cx="1427.5" cy="1042.1" r="15" fill="url(#tg8)"/><circle cx="1458" cy="1042.1" r="15" fill="url(#tg8)"/><circle cx="1427.5" cy="1068.8" r="15" fill="url(#tg8)"/><circle cx="1458" cy="1068.8" r="15" fill="url(#tg8)"/><circle cx="1427.5" cy="1095.6" r="15" fill="url(#tg8)"/><circle cx="1458" cy="1095.6" r="15" fill="url(#tg8)"/><circle cx="1469.8" cy="1114.6" r="14" fill="url(#tg8)"/><circle cx="1039.5" cy="1106" r="13" fill="url(#tg2)"/><circle cx="1869" cy="642" r="22" fill="url(#tg8)"/><circle cx="1891.7" cy="794" r="24" fill="url(#tg8)"/><circle cx="1899" cy="858" r="25" fill="url(#tg8)"/><circle cx="1906" cy="918" r="24" fill="url(#tg8)"/><circle cx="1912.6" cy="1002.8" r="25" fill="url(#tg8)"/><circle cx="1925.4" cy="1096.8" r="25" fill="url(#tg8)"/><circle cx="1880.7" cy="1092" r="25" fill="url(#tg8)"/><circle cx="1845.7" cy="1100" r="22" fill="url(#tg8)"/><circle cx="1802.6" cy="991.6" r="20" fill="url(#tg7)"/><circle cx="1818.6" cy="1052" r="18" fill="url(#tg7)"/><circle cx="1805.8" cy="1087" r="20" fill="url(#tg7)"/></g>
<rect x="1157.5" y="885.5" width="16.5" height="41" rx="6.3" fill="#f4f4f4" stroke="#555" stroke-width="1.3"/>
<rect x="1160" y="897" width="11.5" height="18" rx="2" fill="none" stroke="#555" stroke-width="1" opacity="0.6"/>
<rect x="1738.8" y="885.5" width="16.5" height="41" rx="6.3" fill="#f4f4f4" stroke="#555" stroke-width="1.3"/>
<rect x="1741.2" y="897" width="11.5" height="18" rx="2" fill="none" stroke="#555" stroke-width="1" opacity="0.6"/>
<rect x="1351.2" y="995" width="16.5" height="41" rx="6.3" fill="#f4f4f4" stroke="#555" stroke-width="1.3"/>
<rect x="1353.8" y="1006.5" width="11.5" height="18" rx="2" fill="none" stroke="#555" stroke-width="1" opacity="0.6"/>
<rect x="1546" y="1049.5" width="16.5" height="41" rx="6.3" fill="#f4f4f4" stroke="#555" stroke-width="1.3"/>
<rect x="1548.5" y="1061" width="11.5" height="18" rx="2" fill="none" stroke="#555" stroke-width="1" opacity="0.6"/>
<rect x="1604.8" y="885.5" width="16.5" height="41" rx="6.3" fill="#e07a78" stroke="#8a3a3a" stroke-width="1.3"/>
<rect x="1607.2" y="897" width="11.5" height="18" rx="2" fill="none" stroke="#8a3a3a" stroke-width="1" opacity="0.6"/>
<rect x="1096.5" y="1049.5" width="16.5" height="41" rx="6.3" fill="#e07a78" stroke="#8a3a3a" stroke-width="1.3"/>
<rect x="1099" y="1061" width="11.5" height="18" rx="2" fill="none" stroke="#8a3a3a" stroke-width="1" opacity="0.6"/>
<rect x="761" y="725.4" width="41" height="16.5" rx="6.3" fill="#5c6173" stroke="#2b2d36" stroke-width="1.3"/>
<rect x="772.5" y="727.9" width="18" height="11.5" rx="2" fill="none" stroke="#2b2d36" stroke-width="1" opacity="0.6"/>
<rect x="806.5" y="815.8" width="41" height="16.5" rx="6.3" fill="#5c6173" stroke="#2b2d36" stroke-width="1.3"/>
<rect x="818" y="818.2" width="18" height="11.5" rx="2" fill="none" stroke="#2b2d36" stroke-width="1" opacity="0.6"/>
<rect x="763.2" y="908.2" width="41" height="16.5" rx="6.3" fill="#f2f2f2" stroke="#555" stroke-width="1.3"/>
<rect x="774.7" y="910.8" width="18" height="11.5" rx="2" fill="none" stroke="#555" stroke-width="1" opacity="0.6"/>
<rect x="971.4" y="1003.5" width="16.5" height="41" rx="6.3" fill="#5f7a62" stroke="#2f3f33" stroke-width="1.3"/>
<rect x="973.9" y="1015" width="11.5" height="18" rx="2" fill="none" stroke="#2f3f33" stroke-width="1" opacity="0.6"/>
<rect x="823" y="1355.8" width="41" height="16.5" rx="6.3" fill="#f6f6f6" stroke="#444" stroke-width="1.3"/>
<rect x="834.5" y="1358.2" width="18" height="11.5" rx="2" fill="none" stroke="#444" stroke-width="1" opacity="0.6"/>
<rect x="931.9" y="1534" width="41" height="16.5" rx="6.3" fill="#f2f2f2" stroke="#666" stroke-width="1.3"/>
<rect x="943.4" y="1536.5" width="18" height="11.5" rx="2" fill="none" stroke="#666" stroke-width="1" opacity="0.6"/>
<rect x="1925.5" y="947.4" width="41" height="16.5" rx="6.3" fill="#5a5a5a" stroke="#2a2a2a" stroke-width="1.3"/>
<rect x="1937" y="949.9" width="18" height="11.5" rx="2" fill="none" stroke="#2a2a2a" stroke-width="1" opacity="0.6"/>
<text transform="translate(1992.5,1363) rotate(83.27)" x="0" y="11" font-size="31" fill="#1c1c1c" text-anchor="middle" textLength="418" lengthAdjust="spacingAndGlyphs">AV. JOSÉ ANDRÉ DE MORAES</text>
<circle cx="2081.2" cy="743.5" r="79.3" fill="none" stroke="#812a88" stroke-width="6.8" stroke-dasharray="1.830 3.254"/>
<path d="M2049.6 688.8 A63.2 63.2 0 0 1 2119.2 693" fill="none" stroke="#812a88" stroke-width="8"/>
<line x1="2069.2" y1="684.7" x2="2071.3" y2="695" stroke="#812a88" stroke-width="5"/>
<line x1="2100.2" y1="686.6" x2="2096.9" y2="696.6" stroke="#812a88" stroke-width="5"/>
<path d="M2135.9 711.9 A63.2 63.2 0 0 1 2131.7 781.5" fill="none" stroke="#812a88" stroke-width="8"/>
<line x1="2140" y1="731.5" x2="2129.7" y2="733.6" stroke="#812a88" stroke-width="5"/>
<line x1="2138.1" y1="762.5" x2="2128.1" y2="759.2" stroke="#812a88" stroke-width="5"/>
<path d="M2112.8 798.2 A63.2 63.2 0 0 1 2043.2 794" fill="none" stroke="#812a88" stroke-width="8"/>
<line x1="2093.2" y1="802.3" x2="2091.1" y2="792" stroke="#812a88" stroke-width="5"/>
<line x1="2062.2" y1="800.4" x2="2065.5" y2="790.4" stroke="#812a88" stroke-width="5"/>
<path d="M2026.5 775.1 A63.2 63.2 0 0 1 2030.7 705.5" fill="none" stroke="#812a88" stroke-width="8"/>
<line x1="2022.4" y1="755.5" x2="2032.7" y2="753.4" stroke="#812a88" stroke-width="5"/>
<line x1="2024.3" y1="724.5" x2="2034.3" y2="727.8" stroke="#812a88" stroke-width="5"/>
<polygon points="2081.2,743.5 2085.5,724 2135.1,695.8" fill="#812a88"/>
<polygon points="2081.2,743.5 2135.1,695.8 2101.1,741.6" fill="#fff" stroke="#812a88" stroke-width="2" stroke-linejoin="miter"/>
<polygon points="2081.2,743.5 2100.7,747.8 2128.9,797.4" fill="#812a88"/>
<polygon points="2081.2,743.5 2128.9,797.4 2083.1,763.4" fill="#fff" stroke="#812a88" stroke-width="2" stroke-linejoin="miter"/>
<polygon points="2081.2,743.5 2076.9,763 2027.3,791.2" fill="#812a88"/>
<polygon points="2081.2,743.5 2027.3,791.2 2061.3,745.4" fill="#fff" stroke="#812a88" stroke-width="2" stroke-linejoin="miter"/>
<polygon points="2081.2,743.5 2061.7,739.2 2033.5,689.6" fill="#812a88"/>
<polygon points="2081.2,743.5 2033.5,689.6 2079.3,723.6" fill="#fff" stroke="#812a88" stroke-width="2" stroke-linejoin="miter"/>
<polygon points="2081.2,743.5 2079.3,723.6 2083.6,705.1 2085.5,724" fill="#812a88"/>
<polygon points="2081.2,743.5 2101.1,741.6 2119.6,745.9 2100.7,747.8" fill="#812a88"/>
<polygon points="2081.2,743.5 2083.1,763.4 2078.8,781.9 2076.9,763" fill="#812a88"/>
<polygon points="2081.2,743.5 2061.3,745.4 2042.8,741.1 2061.7,739.2" fill="#812a88"/>
<text transform="translate(2158.4,677) rotate(40)" x="0" y="10.5" font-size="29" font-weight="700" fill="#812a88" text-anchor="middle">N</text>
</g>
<rect x="1170" y="723.3" width="134.6" height="41.4" fill="#8b2c8f"/>
<text x="1237.3" y="751.2" font-size="20" font-weight="700" fill="#fff" text-anchor="middle">TORRE 2</text>
<rect x="1563.8" y="765.4" width="134.5" height="42" fill="#8b2c8f"/>
<text x="1631" y="793.6" font-size="20" font-weight="700" fill="#fff" text-anchor="middle">TORRE 1</text>
<rect x="1200.4" y="1172" width="135.3" height="41.7" fill="#8b2c8f"/>
<text x="1268.1" y="1200" font-size="20" font-weight="700" fill="#fff" text-anchor="middle">TORRE 3</text>
<rect x="1201" y="1481.3" width="134.6" height="41.6" fill="#8b2c8f"/>
<text x="1268.3" y="1509.3" font-size="20" font-weight="700" fill="#fff" text-anchor="middle">TORRE 4</text>
<rect x="749.6" y="1234.5" width="176.2" height="65.1" fill="#8b2c8f"/>
<text x="837.7" y="1262.7" font-size="19.5" font-weight="700" fill="#fff" text-anchor="middle">EDIFÍCIO-</text>
<text x="837.7" y="1287.2" font-size="19.5" font-weight="700" fill="#fff" text-anchor="middle">GARAGEM</text>
<circle cx="1711.1" cy="724.1" r="17.8" fill="#fdc90d"/>
<text x="1710.6" y="731.9" font-size="22" font-weight="700" fill="#111" text-anchor="middle" letter-spacing="-0.6">14</text>
<circle cx="1237.3" cy="961" r="17.8" fill="#fdc90d"/>
<text x="1236.8" y="968.8" font-size="22" font-weight="700" fill="#111" text-anchor="middle" letter-spacing="-0.6">16</text>
<circle cx="1913" cy="970" r="17.8" fill="#fdc90d"/>
<text x="1912.5" y="977.8" font-size="22" font-weight="700" fill="#111" text-anchor="middle" letter-spacing="-0.6">15</text>
<circle cx="1790.7" cy="1048.2" r="17.8" fill="#fdc90d"/>
<text x="1790.2" y="1056" font-size="22" font-weight="700" fill="#111" text-anchor="middle" letter-spacing="-0.6">3</text>
<circle cx="1855.2" cy="1057.8" r="17.8" fill="#fdc90d"/>
<text x="1854.7" y="1065.6" font-size="22" font-weight="700" fill="#111" text-anchor="middle" letter-spacing="-0.6">2</text>
<circle cx="1913" cy="1066.5" r="17.8" fill="#fdc90d"/>
<text x="1912.5" y="1074.3" font-size="22" font-weight="700" fill="#111" text-anchor="middle" letter-spacing="-0.6">1</text>
<circle cx="886.7" cy="1108" r="17.8" fill="#fdc90d"/>
<text x="886.2" y="1115.8" font-size="22" font-weight="700" fill="#111" text-anchor="middle" letter-spacing="-0.6">17</text>
<circle cx="1514.8" cy="1162.2" r="17.8" fill="#fdc90d"/>
<text x="1514.3" y="1170" font-size="22" font-weight="700" fill="#111" text-anchor="middle" letter-spacing="-0.6">4</text>
<circle cx="1514.8" cy="1252.8" r="17.8" fill="#fdc90d"/>
<text x="1514.3" y="1260.6" font-size="22" font-weight="700" fill="#111" text-anchor="middle" letter-spacing="-0.6">5</text>
<circle cx="1514.8" cy="1386.3" r="17.8" fill="#fdc90d"/>
<text x="1514.3" y="1394.1" font-size="22" font-weight="700" fill="#111" text-anchor="middle" letter-spacing="-0.6">6</text>
<circle cx="1515.5" cy="1511.3" r="17.8" fill="#fdc90d"/>
<text x="1515" y="1519.1" font-size="22" font-weight="700" fill="#111" text-anchor="middle" letter-spacing="-0.6">7</text>
<circle cx="1466.1" cy="1528.5" r="17.8" fill="#fdc90d"/>
<text x="1465.6" y="1536.3" font-size="22" font-weight="700" fill="#111" text-anchor="middle" letter-spacing="-0.6">8</text>
<circle cx="1514.8" cy="1590" r="17.8" fill="#fdc90d"/>
<text x="1514.3" y="1597.8" font-size="22" font-weight="700" fill="#111" text-anchor="middle" letter-spacing="-0.6">9</text>
<circle cx="1188.4" cy="1244.4" r="17.8" fill="#fdc90d"/>
<text x="1187.9" y="1252.2" font-size="22" font-weight="700" fill="#111" text-anchor="middle" letter-spacing="-0.6">12</text>
<circle cx="1135" cy="1344" r="17.8" fill="#fdc90d"/>
<text x="1134.5" y="1351.8" font-size="22" font-weight="700" fill="#111" text-anchor="middle" letter-spacing="-0.6">11</text>
<circle cx="1245.5" cy="1344" r="17.8" fill="#fdc90d"/>
<text x="1245" y="1351.8" font-size="22" font-weight="700" fill="#111" text-anchor="middle" letter-spacing="-0.6">10</text>
<circle cx="1343" cy="1344" r="17.8" fill="#fdc90d"/>
<text x="1342.5" y="1351.8" font-size="22" font-weight="700" fill="#111" text-anchor="middle" letter-spacing="-0.6">4</text>
<circle cx="1423.4" cy="1344" r="17.8" fill="#fdc90d"/>
<text x="1422.9" y="1351.8" font-size="22" font-weight="700" fill="#111" text-anchor="middle" letter-spacing="-0.6">10</text>
<circle cx="1184.8" cy="1441.6" r="17.8" fill="#fdc90d"/>
<text x="1184.3" y="1449.4" font-size="22" font-weight="700" fill="#111" text-anchor="middle" letter-spacing="-0.6">13</text>
<rect x="496.9" y="618.3" width="1698.7" height="1000.2" fill="none" stroke="#812a88" stroke-width="6.2"/>
</svg>
</body></html>
